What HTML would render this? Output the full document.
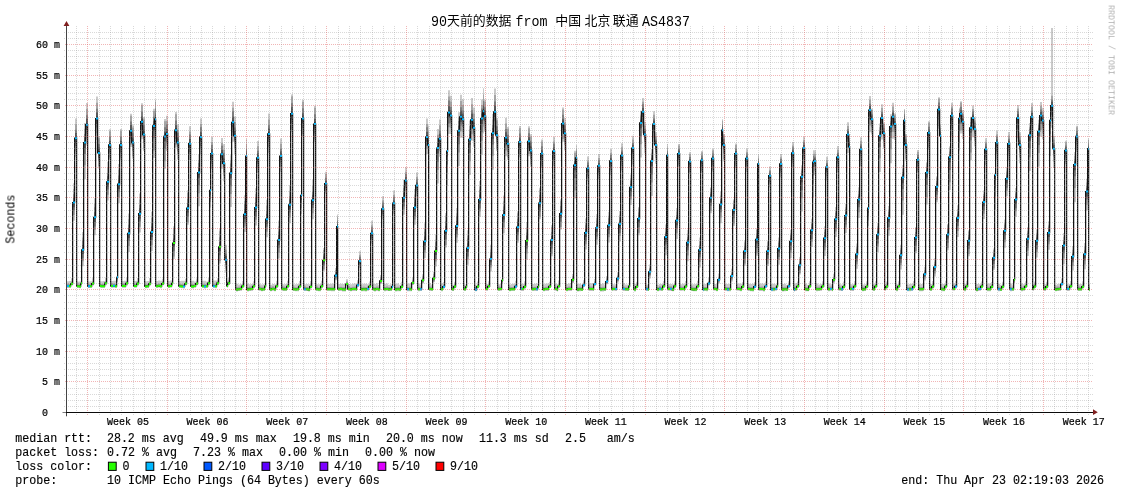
<!DOCTYPE html>
<html lang="zh"><head><meta charset="utf-8"><title>SmokePing 90 days</title>
<style>html,body{margin:0;padding:0;background:#fff}body{width:1121px;height:494px;overflow:hidden;font-family:"Liberation Mono",monospace}svg{display:block}</style>
</head><body>
<svg width="1121" height="494" viewBox="0 0 1121 494">
<rect width="1121" height="494" fill="#fff"/>
<path d="M66.00 281.57H67.00V287.92H66.00zM67.00 281.17H69.00V287.79H67.00zM69.00 281.05H71.00V287.93H69.00zM71.00 278.37H73.00V285.54H71.00zM73.00 183.23H75.00V220.78H73.00zM75.00 118.47H77.00V156.64H75.00zM77.00 281.44H79.00V287.88H77.00zM79.00 281.43H81.00V288.13H79.00zM81.00 278.03H82.00V285.29H81.00zM82.00 232.01H84.00V266.31H82.00zM84.00 122.90H86.00V179.26H84.00zM86.00 102.90H88.00V145.52H86.00zM88.00 281.55H90.00V288.07H88.00zM90.00 281.25H92.00V288.04H90.00zM92.00 278.34H94.00V285.48H92.00zM94.00 198.18H96.00V235.28H94.00zM96.00 96.44H98.00V139.88H96.00zM98.00 136.32H100.00V168.50H98.00zM100.00 281.16H101.00V287.77H100.00zM101.00 281.18H103.00V288.06H101.00zM103.00 280.90H105.00V288.05H103.00zM105.00 277.55H107.00V285.36H105.00zM107.00 161.69H109.00V200.57H107.00zM109.00 129.16H111.00V159.53H109.00zM111.00 281.06H113.00V287.76H111.00zM113.00 280.71H115.00V287.68H113.00zM115.00 280.86H117.00V288.09H115.00zM117.00 269.26H118.00V282.09H117.00zM118.00 163.91H120.00V203.24H118.00zM120.00 128.95H122.00V159.73H120.00zM122.00 280.91H124.00V287.69H122.00zM124.00 280.82H126.00V287.87H124.00zM126.00 277.80H128.00V285.41H126.00zM128.00 213.44H130.00V251.88H128.00zM130.00 113.69H132.00V147.07H130.00zM132.00 125.20H134.00V158.73H132.00zM134.00 280.98H136.00V287.86H134.00zM136.00 280.68H137.00V287.82H136.00zM137.00 277.90H139.00V285.50H137.00zM139.00 193.58H141.00V232.47H139.00zM141.00 103.20H143.00V139.32H141.00zM143.00 117.00H145.00V150.97H143.00zM145.00 281.23H147.00V288.20H145.00zM147.00 280.88H149.00V288.11H147.00zM149.00 278.09H151.00V285.63H149.00zM151.00 211.75H153.00V251.08H151.00zM153.00 108.87H155.00V157.95H153.00zM155.00 99.44H156.00V138.18H155.00zM156.00 281.03H158.00V288.08H156.00zM158.00 280.46H160.00V287.78H158.00zM160.00 280.75H162.00V288.33H160.00zM162.00 278.82H164.00V285.27H162.00zM164.00 119.07H166.00V168.81H164.00zM166.00 115.70H168.00V151.05H166.00zM168.00 280.96H170.00V288.10H168.00zM170.00 280.40H172.00V287.81H170.00zM172.00 277.59H173.00V285.53H172.00zM173.00 226.25H175.00V258.88H173.00zM175.00 112.05H177.00V147.44H175.00zM177.00 124.28H179.00V159.59H177.00zM179.00 280.88H181.00V288.11H179.00zM181.00 280.86H183.00V288.35H181.00zM183.00 280.69H185.00V288.45H183.00zM185.00 278.71H187.00V285.32H185.00zM187.00 190.37H189.00V224.78H187.00zM189.00 126.27H191.00V159.88H189.00zM191.00 280.99H192.00V288.31H191.00zM192.00 280.84H194.00V288.42H192.00zM194.00 281.39H196.00V287.74H194.00zM196.00 278.61H198.00V285.33H196.00zM198.00 154.56H200.00V206.29H198.00zM200.00 118.45H202.00V154.33H200.00zM202.00 280.70H204.00V288.11H202.00zM204.00 280.74H206.00V288.41H204.00zM206.00 281.49H208.00V287.93H206.00zM208.00 278.07H210.00V285.14H208.00zM210.00 172.12H211.00V207.43H210.00zM211.00 136.90H213.00V168.63H211.00zM213.00 280.59H215.00V288.08H213.00zM215.00 280.40H217.00V288.16H215.00zM217.00 278.17H219.00V285.08H217.00zM219.00 229.01H221.00V263.42H219.00zM221.00 138.00H223.00V168.79H221.00zM223.00 144.21H225.00V181.31H223.00zM225.00 244.75H227.00V272.49H225.00zM227.00 281.27H228.00V287.62H227.00zM228.00 278.11H230.00V285.11H228.00zM230.00 155.18H232.00V206.90H230.00zM232.00 101.87H234.00V141.78H232.00zM234.00 116.38H236.00V153.92H234.00zM236.00 283.84H238.00V291.51H236.00zM238.00 284.61H240.00V291.05H238.00zM240.00 283.99H242.00V290.69H240.00zM242.00 281.04H244.00V288.01H242.00zM244.00 195.35H246.00V232.00H244.00zM246.00 139.07H247.00V171.25H246.00zM247.00 283.67H249.00V291.43H247.00zM249.00 284.32H251.00V290.85H249.00zM251.00 283.99H253.00V290.78H251.00zM253.00 281.15H255.00V288.21H253.00zM255.00 188.37H257.00V225.47H255.00zM257.00 140.96H259.00V172.99H257.00zM259.00 284.37H261.00V290.72H259.00zM261.00 284.53H263.00V291.14H261.00zM263.00 284.24H265.00V291.12H263.00zM265.00 280.89H266.00V288.03H265.00zM266.00 199.79H268.00V237.34H266.00zM268.00 113.59H270.00V153.03H268.00zM270.00 284.69H272.00V291.13H270.00zM272.00 284.02H274.00V290.72H272.00zM274.00 284.29H276.00V291.25H274.00zM276.00 280.82H278.00V288.05H276.00zM278.00 220.42H280.00V258.41H278.00zM280.00 138.47H282.00V171.79H280.00zM282.00 284.11H283.00V290.63H282.00zM283.00 284.19H285.00V290.97H283.00zM285.00 284.05H287.00V291.10H285.00zM287.00 280.85H289.00V288.17H287.00zM289.00 184.92H291.00V223.36H289.00zM291.00 94.59H293.00V132.15H291.00zM293.00 284.48H295.00V291.09H293.00zM295.00 284.36H297.00V291.24H295.00zM297.00 284.03H299.00V291.17H297.00zM299.00 280.93H301.00V288.34H299.00zM301.00 175.18H302.00V214.07H301.00zM302.00 99.79H304.00V136.66H302.00zM304.00 284.25H306.00V290.95H304.00zM306.00 284.11H308.00V291.07H306.00zM308.00 284.18H310.00V291.41H308.00zM310.00 281.12H312.00V288.62H310.00zM312.00 179.86H314.00V219.19H312.00zM314.00 105.69H316.00V141.68H314.00zM316.00 284.17H318.00V290.96H316.00zM318.00 284.25H320.00V291.30H318.00zM320.00 283.97H321.00V291.28H320.00zM321.00 280.69H323.00V288.27H321.00zM323.00 247.99H325.00V270.78H323.00zM325.00 171.82H327.00V193.38H325.00zM327.00 284.07H329.00V290.94H327.00zM329.00 283.93H331.00V291.08H329.00zM331.00 283.78H333.00V291.18H331.00zM333.00 283.56H335.00V291.23H333.00zM335.00 267.94H337.00V280.27H335.00zM337.00 214.59H338.00V236.44H337.00zM338.00 284.04H340.00V291.00H338.00zM340.00 283.67H342.00V290.90H340.00zM342.00 283.91H344.00V291.41H342.00zM344.00 283.75H346.00V291.51H344.00zM346.00 279.18H348.00V285.71H346.00zM348.00 284.03H350.00V290.82H348.00zM350.00 284.22H352.00V291.27H350.00zM352.00 283.71H354.00V291.03H352.00zM354.00 283.38H356.00V290.96H354.00zM356.00 284.70H357.00V291.05H356.00zM357.00 280.35H359.00V286.96H357.00zM359.00 251.35H361.00V267.87H359.00zM361.00 284.15H363.00V291.29H361.00zM363.00 283.74H365.00V291.14H363.00zM365.00 283.74H367.00V291.41H365.00zM367.00 284.33H369.00V290.76H367.00zM369.00 281.47H371.00V288.17H369.00zM371.00 220.87H373.00V243.58H371.00zM373.00 283.80H374.00V291.03H373.00zM374.00 283.95H376.00V291.44H374.00zM376.00 283.31H378.00V291.07H376.00zM378.00 284.64H380.00V291.16H378.00zM380.00 274.97H382.00V283.83H380.00zM382.00 196.18H384.00V219.18H382.00zM384.00 283.86H386.00V291.18H384.00zM386.00 283.42H388.00V291.00H386.00zM388.00 284.74H390.00V291.09H388.00zM390.00 284.29H392.00V290.90H390.00zM392.00 281.63H393.00V288.51H392.00zM393.00 190.50H395.00V213.79H393.00zM395.00 284.01H397.00V291.41H395.00zM397.00 283.47H399.00V291.14H397.00zM399.00 284.72H401.00V291.15H399.00zM401.00 281.77H403.00V288.47H401.00zM403.00 179.48H405.00V214.79H403.00zM405.00 167.34H407.00V191.59H405.00zM407.00 283.82H409.00V291.32H407.00zM409.00 283.47H411.00V291.23H409.00zM411.00 284.64H412.00V291.16H411.00zM412.00 277.44H414.00V284.92H412.00zM414.00 189.06H416.00V224.82H414.00zM416.00 172.40H418.00V196.26H416.00zM418.00 283.62H420.00V291.20H418.00zM420.00 284.62H422.00V290.97H420.00zM422.00 274.30H424.00V283.38H422.00zM424.00 223.26H426.00V258.12H424.00zM426.00 118.45H428.00V154.33H426.00zM428.00 125.58H429.00V163.12H428.00zM429.00 283.35H431.00V291.03H429.00zM431.00 284.47H433.00V290.90H431.00zM433.00 271.75H435.00V282.31H433.00zM435.00 234.32H437.00V266.42H435.00zM437.00 129.11H439.00V183.49H437.00zM439.00 119.62H441.00V156.74H439.00zM441.00 283.54H443.00V291.30H441.00zM443.00 281.91H445.00V288.44H443.00zM445.00 213.06H447.00V247.48H445.00zM447.00 132.64H448.00V185.69H447.00zM448.00 90.28H450.00V133.93H448.00zM450.00 95.68H452.00V134.12H450.00zM452.00 284.66H454.00V291.01H452.00zM454.00 281.70H456.00V288.31H454.00zM456.00 207.92H458.00V242.79H456.00zM458.00 112.17H460.00V165.88H458.00zM460.00 94.87H462.00V137.82H460.00zM462.00 99.13H464.00V138.01H462.00zM464.00 284.58H466.00V291.02H464.00zM466.00 281.81H467.00V288.51H466.00zM467.00 230.17H469.00V264.63H467.00zM469.00 120.52H471.00V174.90H469.00zM471.00 98.08H473.00V140.67H471.00zM473.00 107.48H475.00V146.82H473.00zM475.00 284.68H477.00V291.20H475.00zM477.00 281.56H479.00V288.35H477.00zM479.00 181.09H481.00V216.85H479.00zM481.00 99.44H483.00V154.48H481.00zM483.00 88.22H484.00V133.52H483.00zM484.00 99.52H486.00V131.70H484.00zM486.00 284.04H488.00V290.65H486.00zM488.00 281.24H490.00V288.12H488.00zM490.00 244.78H492.00V271.39H490.00zM492.00 113.93H494.00V169.63H492.00zM494.00 88.57H496.00V134.39H494.00zM496.00 118.30H498.00V150.93H496.00zM498.00 284.26H500.00V290.97H498.00zM500.00 283.88H502.00V290.85H500.00zM502.00 273.75H503.00V283.66H502.00zM503.00 195.46H505.00V233.26H503.00zM505.00 117.84H507.00V156.34H505.00zM507.00 127.00H509.00V159.74H507.00zM509.00 284.44H511.00V291.23H509.00zM511.00 283.97H513.00V291.02H511.00zM513.00 283.73H515.00V291.05H513.00zM515.00 280.86H517.00V288.44H515.00zM517.00 211.27H519.00V242.72H517.00zM519.00 126.11H521.00V157.28H519.00zM521.00 284.04H522.00V290.92H521.00zM522.00 283.80H524.00V290.94H522.00zM524.00 281.25H526.00V288.65H524.00zM526.00 221.90H528.00V259.45H526.00zM528.00 126.20H530.00V156.34H528.00zM530.00 134.28H532.00V166.92H530.00zM532.00 284.08H534.00V291.05H532.00zM534.00 283.71H536.00V290.94H534.00zM536.00 283.59H538.00V291.09H536.00zM538.00 280.94H539.00V288.70H538.00zM539.00 187.84H541.00V219.23H539.00zM541.00 139.44H543.00V167.71H541.00zM543.00 284.28H545.00V291.33H543.00zM545.00 283.71H547.00V291.02H545.00zM547.00 283.51H549.00V291.09H547.00zM549.00 281.76H551.00V288.11H549.00zM551.00 224.94H553.00V256.25H551.00zM553.00 137.01H555.00V165.79H553.00zM555.00 283.65H557.00V290.79H555.00zM557.00 284.04H558.00V291.45H557.00zM558.00 280.59H560.00V288.26H558.00zM560.00 199.34H562.00V229.44H560.00zM562.00 107.54H564.00V141.63H562.00zM564.00 118.00H566.00V150.39H564.00zM566.00 284.10H568.00V291.33H566.00zM568.00 283.40H570.00V290.90H568.00zM570.00 283.29H572.00V291.05H570.00zM572.00 273.90H574.00V282.96H572.00zM574.00 150.72H576.00V198.50H574.00zM576.00 144.89H577.00V171.93H576.00zM577.00 284.12H579.00V291.43H577.00zM579.00 283.65H581.00V291.23H579.00zM581.00 284.75H583.00V291.10H581.00zM583.00 280.35H585.00V286.96H583.00zM585.00 218.48H587.00V249.53H585.00zM587.00 156.49H589.00V180.99H587.00zM589.00 283.48H591.00V290.89H589.00zM591.00 283.30H593.00V290.97H591.00zM593.00 284.54H594.00V290.98H593.00zM594.00 279.05H596.00V285.75H594.00zM596.00 213.89H598.00V244.84H596.00zM598.00 154.04H600.00V179.06H598.00zM600.00 283.93H602.00V291.42H600.00zM602.00 283.62H604.00V291.38H602.00zM604.00 284.55H606.00V291.08H604.00zM606.00 276.06H608.00V284.19H606.00zM608.00 211.80H610.00V242.61H608.00zM610.00 149.00H612.00V175.06H610.00zM612.00 283.54H613.00V291.12H612.00zM613.00 284.26H615.00V290.61H613.00zM615.00 284.20H617.00V290.81H615.00zM617.00 272.31H619.00V282.42H617.00zM619.00 210.91H621.00V241.60H619.00zM621.00 143.32H623.00V170.56H621.00zM623.00 283.29H625.00V290.96H623.00zM625.00 284.48H627.00V290.92H625.00zM627.00 284.39H629.00V291.09H627.00zM629.00 281.02H630.00V287.98H629.00zM630.00 174.46H632.00V205.01H630.00zM632.00 135.72H634.00V164.51H632.00zM634.00 283.69H636.00V291.45H634.00zM636.00 281.82H638.00V288.34H636.00zM638.00 206.88H640.00V235.21H638.00zM640.00 110.83H642.00V157.48H640.00zM642.00 97.88H644.00V133.35H642.00zM644.00 121.78H646.00V153.13H644.00zM646.00 284.62H648.00V290.97H646.00zM648.00 284.49H649.00V291.11H648.00zM649.00 264.62H651.00V278.43H649.00zM651.00 149.12H653.00V195.94H651.00zM653.00 111.14H655.00V144.06H653.00zM655.00 132.30H657.00V163.77H655.00zM657.00 284.73H659.00V291.17H657.00zM659.00 283.98H661.00V290.68H659.00zM661.00 284.07H663.00V291.03H661.00zM663.00 280.89H665.00V288.12H663.00zM665.00 224.59H667.00V255.34H665.00zM667.00 143.89H668.00V171.28H667.00zM668.00 284.12H670.00V290.64H668.00zM670.00 283.97H672.00V290.76H670.00zM672.00 284.29H674.00V291.35H672.00zM674.00 280.81H676.00V288.13H674.00zM676.00 207.89H678.00V239.00H676.00zM678.00 144.04H680.00V166.79H678.00zM680.00 284.13H682.00V290.75H680.00zM682.00 283.85H684.00V290.72H682.00zM684.00 284.18H685.00V291.32H684.00zM685.00 280.97H687.00V288.38H685.00zM687.00 229.82H689.00V261.29H687.00zM689.00 152.32H691.00V173.89H689.00zM691.00 284.29H693.00V290.99H691.00zM693.00 284.35H695.00V291.32H693.00zM695.00 284.04H697.00V291.27H695.00zM697.00 280.83H699.00V288.33H697.00zM699.00 237.60H701.00V267.51H699.00zM701.00 150.90H703.00V173.00H701.00zM703.00 284.44H704.00V291.23H703.00zM704.00 283.99H706.00V291.05H704.00zM706.00 283.88H708.00V291.20H706.00zM708.00 277.73H710.00V285.51H708.00zM710.00 187.23H712.00V213.28H710.00zM712.00 148.83H714.00V171.58H712.00zM714.00 283.90H716.00V290.78H714.00zM716.00 284.10H718.00V291.25H716.00zM718.00 273.51H720.00V283.40H718.00zM720.00 191.79H722.00V223.27H720.00zM722.00 119.31H723.00V146.76H722.00zM723.00 133.90H725.00V161.40H723.00zM725.00 283.97H727.00V290.93H725.00zM727.00 284.04H729.00V291.27H727.00zM729.00 283.78H731.00V291.27H729.00zM731.00 268.82H733.00V281.60H731.00zM733.00 199.21H735.00V225.98H733.00zM735.00 143.38H737.00V167.71H735.00zM737.00 283.72H739.00V290.77H737.00zM739.00 283.61H740.00V290.93H739.00zM740.00 283.79H742.00V291.37H740.00zM742.00 281.89H744.00V288.24H742.00zM744.00 240.84H746.00V265.64H744.00zM746.00 148.44H748.00V172.10H746.00zM748.00 283.84H750.00V290.98H748.00zM750.00 283.96H752.00V291.37H750.00zM752.00 283.73H754.00V291.40H752.00zM754.00 281.92H756.00V288.36H754.00zM756.00 228.36H758.00V255.85H756.00zM758.00 154.16H759.00V177.00H758.00zM759.00 283.73H761.00V290.96H759.00zM761.00 283.42H763.00V290.91H761.00zM763.00 283.68H765.00V291.44H763.00zM765.00 281.49H767.00V288.01H765.00zM767.00 240.56H769.00V266.03H767.00zM769.00 166.40H771.00V187.13H769.00zM771.00 284.01H773.00V291.33H771.00zM773.00 283.75H775.00V291.33H773.00zM775.00 284.25H777.00V290.60H775.00zM777.00 281.29H778.00V287.90H777.00zM778.00 237.56H780.00V264.78H778.00zM780.00 153.92H782.00V177.33H780.00zM782.00 284.02H784.00V291.43H782.00zM784.00 283.63H786.00V291.30H784.00zM786.00 284.65H788.00V291.09H786.00zM788.00 281.26H790.00V287.96H788.00zM790.00 229.76H792.00V258.34H790.00zM792.00 142.07H794.00V168.11H792.00zM794.00 283.97H795.00V291.46H794.00zM795.00 283.23H797.00V290.99H795.00zM797.00 281.49H799.00V288.01H797.00zM799.00 257.04H801.00V274.44H799.00zM801.00 165.21H803.00V211.45H801.00zM803.00 136.72H805.00V164.13H803.00zM805.00 283.73H807.00V291.31H805.00zM807.00 284.83H809.00V291.18H807.00zM809.00 281.32H811.00V287.93H809.00zM811.00 218.86H813.00V247.08H811.00zM813.00 150.35H814.00V197.16H813.00zM814.00 150.28H816.00V175.23H814.00zM816.00 283.62H818.00V291.29H816.00zM818.00 284.51H820.00V290.94H818.00zM820.00 284.00H822.00V290.71H820.00zM822.00 281.13H824.00V288.09H822.00zM824.00 226.26H826.00V255.92H824.00zM826.00 156.68H828.00V180.59H826.00zM828.00 283.60H830.00V291.35H828.00zM830.00 284.22H832.00V290.75H830.00zM832.00 284.39H833.00V291.18H832.00zM833.00 273.80H835.00V283.23H833.00zM835.00 207.10H837.00V237.12H835.00zM837.00 146.11H839.00V172.47H837.00zM839.00 284.29H841.00V290.64H839.00zM841.00 284.48H843.00V291.09H841.00zM843.00 281.62H845.00V288.50H843.00zM845.00 203.71H847.00V233.01H845.00zM847.00 122.23H849.00V152.89H847.00zM849.00 134.14H850.00V165.61H849.00zM850.00 284.31H852.00V290.75H850.00zM852.00 284.17H854.00V290.87H852.00zM854.00 281.10H856.00V288.07H854.00zM856.00 243.50H858.00V268.75H856.00zM858.00 187.18H860.00V217.93H858.00zM860.00 137.35H862.00V166.13H860.00zM862.00 284.61H864.00V291.13H862.00zM864.00 284.15H866.00V290.94H864.00zM866.00 281.31H868.00V288.36H866.00zM868.00 196.06H869.00V226.08H868.00zM869.00 95.95H871.00V132.29H869.00zM871.00 108.72H873.00V134.77H871.00zM873.00 284.35H875.00V290.96H873.00zM875.00 281.17H877.00V288.05H875.00zM877.00 222.72H879.00V252.02H877.00zM879.00 123.54H881.00V172.09H879.00zM881.00 104.14H883.00V139.61H881.00zM883.00 122.69H885.00V149.09H883.00zM885.00 284.04H886.00V290.74H885.00zM886.00 281.46H888.00V288.42H886.00zM888.00 206.02H890.00V235.68H888.00zM890.00 114.19H892.00V163.32H890.00zM892.00 102.67H894.00V138.83H892.00zM894.00 113.34H896.00V140.11H894.00zM896.00 284.35H898.00V291.14H896.00zM898.00 281.15H900.00V288.21H898.00zM900.00 244.82H902.00V269.62H900.00zM902.00 164.95H904.00V214.66H902.00zM904.00 109.11H905.00V138.01H904.00zM905.00 134.05H907.00V161.18H905.00zM907.00 284.40H909.00V291.28H907.00zM909.00 284.01H911.00V291.15H909.00zM911.00 283.66H913.00V291.07H911.00zM913.00 281.00H915.00V288.67H913.00zM915.00 226.95H917.00V253.36H915.00zM917.00 150.00H919.00V172.81H917.00zM919.00 284.19H921.00V291.15H919.00zM921.00 283.96H923.00V291.19H921.00zM923.00 283.46H924.00V290.95H923.00zM924.00 266.63H926.00V280.61H924.00zM926.00 161.79H928.00V204.56H926.00zM928.00 121.31H930.00V149.78H928.00zM930.00 284.05H932.00V291.11H930.00zM932.00 281.11H934.00V288.43H932.00zM934.00 258.28H936.00V276.53H934.00zM936.00 176.19H938.00V202.24H936.00zM938.00 97.13H940.00V128.83H938.00zM940.00 124.41H941.00V152.63H940.00zM941.00 284.02H943.00V291.16H941.00zM943.00 283.96H945.00V291.37H943.00zM945.00 280.78H947.00V288.45H945.00zM947.00 223.89H949.00V250.29H947.00zM949.00 146.17H951.00V190.09H949.00zM951.00 102.81H953.00V135.52H951.00zM953.00 283.60H955.00V290.83H953.00zM955.00 280.93H957.00V288.43H955.00zM957.00 205.14H959.00V236.98H957.00zM959.00 107.82H960.00V150.59H959.00zM960.00 101.19H962.00V133.43H960.00zM962.00 110.01H964.00V138.95H962.00zM964.00 283.87H966.00V291.19H964.00zM966.00 280.65H968.00V288.24H966.00zM968.00 230.16H970.00V256.21H968.00zM970.00 116.87H972.00V160.22H970.00zM972.00 105.57H974.00V137.37H972.00zM974.00 117.23H976.00V146.53H974.00zM976.00 284.03H978.00V291.43H976.00zM978.00 283.39H979.00V291.06H978.00zM979.00 284.26H981.00V290.69H979.00zM981.00 281.45H983.00V288.15H981.00zM983.00 190.51H985.00V219.08H983.00zM985.00 138.16H987.00V164.98H985.00zM987.00 283.73H989.00V291.22H987.00zM989.00 283.52H991.00V291.28H989.00zM991.00 281.93H993.00V288.45H991.00zM993.00 248.45H995.00V270.05H993.00zM995.00 163.37H996.00V209.61H995.00zM996.00 130.85H998.00V159.44H996.00zM998.00 283.63H1000.00V291.21H998.00zM1000.00 284.76H1002.00V291.10H1000.00zM1002.00 281.82H1004.00V288.44H1002.00zM1004.00 219.48H1006.00V247.69H1004.00zM1006.00 166.91H1008.00V196.21H1006.00zM1008.00 132.02H1010.00V160.68H1008.00zM1010.00 283.54H1012.00V291.21H1010.00zM1012.00 284.46H1014.00V290.90H1012.00zM1014.00 274.10H1015.00V283.05H1014.00zM1015.00 188.05H1017.00V216.63H1015.00zM1017.00 104.94H1019.00V138.36H1017.00zM1019.00 132.59H1021.00V163.34H1019.00zM1021.00 283.49H1023.00V291.25H1021.00zM1023.00 284.14H1025.00V290.67H1023.00zM1025.00 281.27H1027.00V288.05H1025.00zM1027.00 227.16H1029.00V256.10H1027.00zM1029.00 123.07H1031.00V171.04H1029.00zM1031.00 102.99H1033.00V138.32H1031.00zM1033.00 284.33H1034.00V290.68H1033.00zM1034.00 281.57H1036.00V288.18H1034.00zM1036.00 229.29H1038.00V257.51H1036.00zM1038.00 119.68H1040.00V166.50H1038.00zM1040.00 102.01H1042.00V136.78H1040.00zM1042.00 107.77H1044.00V139.24H1042.00zM1044.00 284.35H1046.00V290.79H1044.00zM1046.00 281.71H1048.00V288.41H1046.00zM1048.00 221.17H1050.00V249.75H1048.00zM1050.00 108.50H1051.00V155.89H1050.00zM1051.00 27.94H1053.00V127.74H1051.00zM1053.00 135.84H1055.00V167.67H1053.00zM1055.00 284.64H1057.00V291.16H1055.00zM1057.00 284.12H1059.00V290.91H1057.00zM1059.00 283.82H1061.00V290.88H1059.00zM1061.00 278.60H1063.00V285.92H1061.00zM1063.00 233.03H1065.00V264.14H1063.00zM1065.00 140.81H1067.00V164.13H1065.00zM1067.00 284.18H1069.00V290.80H1067.00zM1069.00 283.94H1070.00V290.82H1069.00zM1070.00 281.10H1072.00V288.24H1070.00zM1072.00 246.14H1074.00V270.48H1072.00zM1074.00 151.93H1076.00V202.21H1074.00zM1076.00 125.78H1078.00V152.08H1076.00zM1078.00 284.20H1080.00V290.90H1078.00zM1080.00 284.06H1082.00V291.03H1080.00zM1082.00 281.34H1084.00V288.57H1082.00zM1084.00 243.11H1086.00V269.28H1084.00zM1086.00 178.77H1088.00V210.60H1086.00zM1088.00 138.59H1089.00V162.91H1088.00zM1089.00 284.37H1090.00V291.16H1089.00z" fill="#cacaca"/>
<path d="M66.00 283.72H67.00V287.53H66.00zM67.00 283.42H69.00V287.38H67.00zM69.00 283.92H71.00V287.24H69.00zM71.00 281.35H73.00V284.82H71.00zM73.00 188.92H75.00V215.12H73.00zM75.00 124.26H77.00V150.93H75.00zM77.00 283.62H79.00V287.49H77.00zM79.00 283.72H81.00V287.72H79.00zM81.00 280.97H82.00V284.55H81.00zM82.00 237.38H84.00V261.14H82.00zM84.00 128.64H86.00V165.30H84.00zM86.00 109.09H88.00V139.10H86.00zM88.00 283.76H90.00V287.67H88.00zM90.00 283.57H92.00V287.62H90.00zM92.00 281.29H94.00V284.76H92.00zM94.00 203.82H96.00V229.68H94.00zM96.00 102.67H98.00V133.29H96.00zM98.00 138.37H100.00V166.24H98.00zM100.00 283.41H101.00V287.36H100.00zM101.00 284.06H103.00V287.37H101.00zM103.00 283.88H105.00V287.33H103.00zM105.00 280.67H107.00V284.56H105.00zM107.00 167.54H109.00V194.74H107.00zM109.00 131.27H111.00V157.37H109.00zM111.00 283.34H113.00V287.35H111.00zM113.00 283.62H115.00V286.98H113.00zM115.00 283.87H117.00V287.37H115.00zM117.00 272.83H118.00V280.47H117.00zM118.00 169.82H120.00V197.36H118.00zM120.00 131.10H122.00V157.52H120.00zM122.00 283.22H124.00V287.27H122.00zM124.00 283.76H126.00V287.17H124.00zM126.00 280.88H128.00V284.63H126.00zM128.00 219.24H130.00V246.10H128.00zM130.00 115.73H132.00V144.72H130.00zM132.00 127.41H134.00V156.29H132.00zM134.00 283.86H136.00V287.17H134.00zM136.00 283.66H137.00V287.11H136.00zM137.00 281.00H139.00V284.73H137.00zM139.00 199.44H141.00V226.64H139.00zM141.00 105.29H143.00V136.74H141.00zM143.00 119.26H145.00V148.48H143.00zM145.00 284.14H147.00V287.50H145.00zM147.00 283.89H149.00V287.39H147.00zM149.00 281.21H151.00V284.88H149.00zM151.00 217.66H153.00V245.20H151.00zM153.00 111.03H155.00V150.47H153.00zM155.00 101.76H156.00V135.30H155.00zM156.00 283.97H158.00V287.37H156.00zM158.00 283.51H160.00V287.05H158.00zM160.00 283.90H162.00V287.58H160.00zM162.00 280.96H164.00V284.88H162.00zM164.00 121.28H166.00V161.18H164.00zM166.00 121.10H168.00V145.64H166.00zM168.00 283.93H170.00V287.38H168.00zM170.00 283.48H172.00V287.07H170.00zM172.00 280.80H173.00V284.73H172.00zM173.00 228.35H175.00V256.56H173.00zM175.00 114.31H177.00V144.84H175.00zM177.00 129.69H179.00V154.21H177.00zM179.00 283.89H181.00V287.38H179.00zM181.00 283.97H183.00V287.61H181.00zM183.00 283.91H185.00V287.68H183.00zM185.00 280.92H187.00V284.92H185.00zM187.00 192.69H189.00V222.24H187.00zM189.00 131.55H191.00V154.79H189.00zM191.00 284.04H192.00V287.58H191.00zM192.00 283.99H194.00V287.67H192.00zM194.00 283.54H196.00V287.36H194.00zM196.00 280.86H198.00V284.92H196.00zM198.00 159.92H200.00V193.33H198.00zM200.00 123.95H202.00V148.89H200.00zM202.00 283.78H204.00V287.37H202.00zM204.00 283.92H206.00V287.65H204.00zM206.00 283.67H208.00V287.54H206.00zM208.00 280.35H210.00V284.70H208.00zM210.00 177.53H211.00V202.05H210.00zM211.00 142.05H213.00V163.89H211.00zM213.00 283.70H215.00V287.34H213.00zM215.00 283.62H217.00V287.39H215.00zM217.00 280.39H219.00V284.65H217.00zM219.00 231.33H221.00V260.88H219.00zM221.00 143.03H223.00V164.17H221.00zM223.00 149.85H225.00V175.70H223.00zM225.00 249.63H227.00V268.46H225.00zM227.00 283.42H228.00V287.23H227.00zM228.00 280.36H230.00V284.67H228.00zM230.00 160.54H232.00V193.94H230.00zM232.00 107.72H234.00V135.67H232.00zM234.00 122.07H236.00V148.26H234.00zM236.00 287.03H238.00V290.75H236.00zM238.00 286.79H240.00V290.66H238.00zM240.00 286.27H242.00V290.27H240.00zM242.00 283.95H244.00V287.31H242.00zM244.00 200.93H246.00V226.45H244.00zM246.00 144.31H247.00V166.48H246.00zM247.00 286.89H249.00V290.66H247.00zM249.00 286.54H251.00V290.45H249.00zM251.00 286.31H253.00V290.36H251.00zM253.00 284.10H255.00V287.50H253.00zM255.00 194.01H257.00V219.86H255.00zM257.00 146.21H259.00V168.25H257.00zM259.00 286.52H261.00V290.34H259.00zM261.00 286.78H263.00V290.74H261.00zM263.00 287.11H265.00V290.43H263.00zM265.00 283.87H266.00V287.32H265.00zM266.00 205.48H268.00V231.68H266.00zM268.00 119.50H270.00V147.11H268.00zM270.00 286.87H272.00V290.74H270.00zM272.00 286.30H274.00V290.31H272.00zM274.00 287.20H276.00V290.56H274.00zM276.00 283.83H278.00V287.33H276.00zM278.00 226.16H280.00V252.69H278.00zM280.00 143.87H282.00V166.88H280.00zM282.00 286.32H283.00V290.23H282.00zM283.00 286.51H285.00V290.55H283.00zM285.00 286.99H287.00V290.40H285.00zM287.00 283.90H289.00V287.44H287.00zM289.00 190.72H291.00V217.58H289.00zM291.00 96.61H293.00V129.49H291.00zM293.00 286.73H295.00V290.69H293.00zM295.00 287.24H297.00V290.55H295.00zM297.00 287.01H299.00V290.46H297.00zM299.00 284.02H301.00V287.60H299.00zM301.00 181.04H302.00V208.24H301.00zM302.00 101.87H304.00V134.02H302.00zM304.00 286.54H306.00V290.54H304.00zM306.00 287.02H308.00V290.38H306.00zM308.00 287.19H310.00V290.69H308.00zM310.00 284.24H312.00V287.87H310.00zM312.00 185.77H314.00V213.30H312.00zM314.00 107.83H316.00V139.09H314.00zM316.00 286.49H318.00V290.54H316.00zM318.00 287.19H320.00V290.60H318.00zM320.00 287.01H321.00V290.55H320.00zM321.00 283.84H323.00V287.52H321.00zM323.00 250.07H325.00V269.20H323.00zM325.00 174.04H327.00V191.85H325.00zM327.00 286.94H329.00V290.25H327.00zM329.00 286.91H331.00V290.36H329.00zM331.00 286.86H333.00V290.45H331.00zM333.00 286.75H335.00V290.48H333.00zM335.00 270.11H337.00V279.45H335.00zM337.00 216.87H338.00V234.87H337.00zM338.00 286.94H340.00V290.30H338.00zM340.00 286.68H342.00V290.18H340.00zM342.00 287.03H344.00V290.66H342.00zM344.00 286.97H346.00V290.74H344.00zM346.00 281.40H348.00V285.31H346.00zM348.00 286.35H350.00V290.40H348.00zM350.00 287.16H352.00V290.57H350.00zM352.00 286.76H354.00V290.30H352.00zM354.00 286.53H356.00V290.21H354.00zM356.00 286.85H357.00V290.66H356.00zM357.00 282.60H359.00V286.55H357.00zM359.00 255.08H361.00V265.58H359.00zM361.00 287.13H363.00V290.58H361.00zM363.00 286.82H365.00V290.41H363.00zM365.00 286.92H367.00V290.65H365.00zM367.00 286.51H369.00V290.37H367.00zM369.00 283.76H371.00V287.76H369.00zM371.00 225.17H373.00V240.28H371.00zM373.00 286.81H374.00V290.31H373.00zM374.00 287.06H376.00V290.70H374.00zM376.00 286.53H378.00V290.30H376.00zM378.00 286.86H380.00V290.77H378.00zM380.00 277.28H382.00V283.25H380.00zM382.00 200.52H384.00V215.84H382.00zM384.00 286.91H386.00V290.45H384.00zM386.00 286.57H388.00V290.25H386.00zM388.00 286.89H390.00V290.71H388.00zM390.00 286.54H392.00V290.50H390.00zM392.00 284.50H393.00V287.82H392.00zM393.00 194.89H395.00V210.42H393.00zM395.00 287.09H397.00V290.68H395.00zM397.00 286.65H399.00V290.38H397.00zM399.00 286.90H401.00V290.76H399.00zM401.00 284.06H403.00V288.06H401.00zM403.00 184.89H405.00V209.41H403.00zM405.00 171.84H407.00V188.07H405.00zM407.00 286.94H409.00V290.57H407.00zM409.00 286.69H411.00V290.46H409.00zM411.00 286.85H412.00V290.76H411.00zM412.00 279.76H414.00V284.45H412.00zM414.00 194.53H416.00V219.38H414.00zM416.00 176.88H418.00V192.82H416.00zM418.00 286.77H420.00V290.45H418.00zM420.00 286.77H422.00V290.59H420.00zM422.00 276.55H424.00V282.79H422.00zM424.00 228.62H426.00V252.79H424.00zM426.00 123.95H428.00V148.89H426.00zM428.00 131.27H429.00V157.46H428.00zM429.00 286.54H431.00V290.27H429.00zM431.00 286.65H433.00V290.51H431.00zM433.00 274.03H435.00V281.61H433.00zM435.00 239.45H437.00V261.57H435.00zM437.00 134.69H439.00V169.95H437.00zM439.00 125.29H441.00V151.16H439.00zM441.00 286.76H443.00V290.54H441.00zM443.00 284.13H445.00V288.04H443.00zM445.00 215.38H447.00V244.93H445.00zM447.00 138.11H448.00V172.44H447.00zM448.00 96.49H450.00V127.25H448.00zM450.00 101.48H452.00V128.34H450.00zM452.00 286.81H454.00V290.63H452.00zM454.00 283.95H456.00V287.91H454.00zM456.00 213.28H458.00V237.46H456.00zM458.00 117.69H460.00V152.49H458.00zM460.00 101.03H462.00V131.28H460.00zM462.00 104.98H464.00V132.18H462.00zM464.00 286.76H466.00V290.62H464.00zM466.00 284.10H467.00V288.10H466.00zM467.00 235.50H469.00V259.38H467.00zM469.00 126.10H471.00V161.36H469.00zM471.00 104.22H473.00V134.20H471.00zM473.00 113.39H475.00V140.93H473.00zM475.00 286.89H477.00V290.80H475.00zM477.00 283.88H479.00V287.93H477.00zM479.00 186.56H481.00V211.41H479.00zM481.00 105.07H483.00V140.80H481.00zM483.00 94.61H484.00V126.63H483.00zM484.00 101.57H486.00V129.44H484.00zM486.00 286.29H488.00V290.24H486.00zM488.00 284.11H490.00V287.43H488.00zM490.00 249.46H492.00V267.48H490.00zM492.00 119.62H494.00V155.81H492.00zM494.00 95.01H496.00V127.43H494.00zM496.00 120.40H498.00V148.61H496.00zM498.00 286.55H500.00V290.55H498.00zM500.00 286.79H502.00V290.15H500.00zM502.00 276.99H503.00V282.50H502.00zM503.00 201.15H505.00V227.54H503.00zM505.00 123.62H507.00V150.54H505.00zM507.00 129.11H509.00V157.36H507.00zM509.00 286.76H511.00V290.81H509.00zM511.00 286.91H513.00V290.32H511.00zM513.00 286.78H515.00V290.32H513.00zM515.00 284.01H517.00V287.69H515.00zM517.00 213.23H519.00V240.45H517.00zM519.00 128.22H521.00V154.96H519.00zM521.00 286.91H522.00V290.23H521.00zM522.00 286.77H524.00V290.22H522.00zM524.00 284.33H526.00V287.92H524.00zM526.00 227.38H528.00V253.62H526.00zM528.00 128.18H530.00V154.11H528.00zM530.00 136.39H532.00V164.42H530.00zM532.00 286.99H534.00V290.35H532.00zM534.00 286.73H536.00V290.22H534.00zM536.00 286.71H538.00V290.34H536.00zM538.00 284.16H539.00V287.93H538.00zM539.00 189.79H541.00V216.85H539.00zM541.00 141.58H543.00V165.52H541.00zM543.00 287.22H545.00V290.62H543.00zM545.00 286.75H547.00V290.30H545.00zM547.00 286.66H549.00V290.34H547.00zM549.00 283.90H551.00V287.72H549.00zM551.00 226.89H553.00V253.81H551.00zM553.00 141.41H555.00V161.13H553.00zM555.00 286.63H557.00V290.08H555.00zM557.00 287.12H558.00V290.71H557.00zM558.00 283.78H560.00V287.51H558.00zM560.00 201.15H562.00V227.12H560.00zM562.00 109.44H564.00V138.90H562.00zM564.00 122.57H566.00V145.01H564.00zM566.00 287.11H568.00V290.61H566.00zM568.00 286.52H570.00V290.15H568.00zM570.00 286.51H572.00V290.28H570.00zM572.00 276.07H574.00V282.35H572.00zM574.00 152.64H576.00V190.58H574.00zM576.00 149.04H577.00V167.47H576.00zM577.00 287.16H579.00V290.71H577.00zM579.00 286.80H581.00V290.48H579.00zM581.00 286.90H583.00V290.71H581.00zM583.00 282.60H585.00V286.55H583.00zM585.00 222.74H587.00V244.21H585.00zM587.00 160.43H589.00V176.96H587.00zM589.00 286.57H591.00V290.15H589.00zM591.00 286.49H593.00V290.22H591.00zM593.00 286.72H594.00V290.59H593.00zM594.00 281.34H596.00V285.34H594.00zM596.00 218.04H598.00V239.46H596.00zM598.00 157.95H600.00V174.88H598.00zM600.00 287.04H602.00V290.68H600.00zM602.00 286.84H604.00V290.61H602.00zM604.00 286.77H606.00V290.68H604.00zM606.00 278.35H608.00V283.65H606.00zM608.00 215.84H610.00V237.17H608.00zM610.00 152.88H612.00V170.61H610.00zM612.00 286.69H613.00V290.37H612.00zM613.00 286.40H615.00V290.22H613.00zM615.00 286.45H617.00V290.40H615.00zM617.00 275.33H619.00V281.07H617.00zM619.00 214.85H621.00V236.10H619.00zM621.00 147.17H623.00V165.80H621.00zM623.00 286.47H625.00V290.20H623.00zM625.00 286.66H627.00V290.53H625.00zM627.00 286.68H629.00V290.68H627.00zM629.00 283.93H630.00V287.29H629.00zM630.00 178.29H632.00V199.46H630.00zM632.00 139.54H634.00V159.37H632.00zM634.00 286.91H636.00V290.68H634.00zM636.00 284.03H638.00V287.94H636.00zM638.00 208.46H640.00V232.66H638.00zM640.00 114.45H642.00V144.23H640.00zM642.00 101.73H644.00V126.66H642.00zM644.00 125.56H646.00V147.36H644.00zM646.00 286.77H648.00V290.59H646.00zM648.00 286.74H649.00V290.70H648.00zM649.00 267.68H651.00V276.23H649.00zM651.00 152.66H653.00V182.54H651.00zM653.00 114.85H655.00V137.85H653.00zM655.00 136.05H657.00V157.94H655.00zM657.00 286.91H659.00V290.78H657.00zM659.00 286.27H661.00V290.27H659.00zM661.00 286.98H663.00V290.34H661.00zM663.00 283.91H665.00V287.40H663.00zM665.00 228.27H667.00V249.62H665.00zM667.00 147.57H668.00V166.34H667.00zM668.00 286.33H670.00V290.24H668.00zM670.00 286.29H672.00V290.34H670.00zM672.00 287.24H674.00V290.64H672.00zM674.00 283.86H676.00V287.40H674.00zM676.00 211.60H678.00V233.22H676.00zM678.00 145.52H680.00V164.84H678.00zM680.00 286.38H682.00V290.34H680.00zM682.00 286.72H684.00V290.03H682.00zM684.00 287.16H685.00V290.61H684.00zM685.00 284.05H687.00V287.64H685.00zM687.00 233.57H689.00V255.46H687.00zM689.00 153.90H691.00V172.03H689.00zM691.00 286.58H693.00V290.58H691.00zM693.00 287.26H695.00V290.62H693.00zM695.00 287.05H697.00V290.55H695.00zM697.00 283.95H699.00V287.58H697.00zM699.00 241.34H701.00V262.03H699.00zM701.00 152.50H703.00V171.07H701.00zM703.00 286.76H704.00V290.81H703.00zM704.00 286.94H706.00V290.34H704.00zM706.00 286.93H708.00V290.47H706.00zM708.00 280.89H710.00V284.72H708.00zM710.00 188.58H712.00V211.01H710.00zM712.00 150.45H714.00V169.58H712.00zM714.00 286.78H716.00V290.09H714.00zM716.00 287.08H718.00V290.53H716.00zM718.00 276.65H720.00V282.13H718.00zM720.00 195.55H722.00V217.44H720.00zM722.00 120.65H723.00V144.34H722.00zM723.00 135.39H725.00V158.90H723.00zM725.00 286.88H727.00V290.24H725.00zM727.00 287.06H729.00V290.55H727.00zM729.00 286.90H731.00V290.53H729.00zM731.00 272.16H733.00V279.77H731.00zM733.00 200.63H735.00V223.60H733.00zM735.00 145.04H737.00V165.52H735.00zM737.00 286.66H739.00V290.07H737.00zM739.00 286.66H740.00V290.20H739.00zM740.00 286.94H742.00V290.62H740.00zM742.00 284.04H744.00V287.86H742.00zM744.00 242.38H746.00V263.44H744.00zM746.00 151.76H748.00V167.77H746.00zM748.00 286.82H750.00V290.27H748.00zM750.00 287.04H752.00V290.63H750.00zM752.00 286.91H754.00V290.64H752.00zM754.00 284.10H756.00V287.97H754.00zM756.00 229.85H758.00V253.36H756.00zM758.00 157.48H759.00V172.87H758.00zM759.00 286.75H761.00V290.24H759.00zM761.00 286.53H763.00V290.17H761.00zM763.00 286.90H765.00V290.67H763.00zM765.00 283.70H767.00V287.61H765.00zM767.00 242.18H769.00V263.73H767.00zM769.00 169.69H771.00V183.46H769.00zM771.00 287.06H773.00V290.60H771.00zM773.00 286.90H775.00V290.58H773.00zM775.00 286.40H777.00V290.21H775.00zM777.00 283.54H778.00V287.49H777.00zM778.00 240.96H780.00V259.67H778.00zM780.00 157.31H782.00V173.11H780.00zM782.00 287.10H784.00V290.69H782.00zM784.00 286.81H786.00V290.54H784.00zM786.00 286.83H788.00V290.70H786.00zM788.00 283.55H790.00V287.55H788.00zM790.00 233.23H792.00V252.95H790.00zM792.00 145.55H794.00V163.34H792.00zM794.00 287.08H795.00V290.72H794.00zM795.00 286.45H797.00V290.22H795.00zM797.00 283.70H799.00V287.61H797.00zM799.00 258.96H801.00V272.94H799.00zM801.00 168.72H803.00V198.20H801.00zM803.00 140.26H805.00V159.08H803.00zM805.00 286.88H807.00V290.56H805.00zM807.00 286.98H809.00V290.80H807.00zM809.00 283.57H811.00V287.52H809.00zM811.00 222.30H813.00V241.75H811.00zM813.00 153.89H814.00V183.77H813.00zM814.00 153.79H816.00V170.73H814.00zM816.00 286.81H818.00V290.53H816.00zM818.00 286.69H820.00V290.55H818.00zM820.00 286.29H822.00V290.29H820.00zM822.00 284.04H824.00V287.39H822.00zM824.00 229.83H826.00V250.37H824.00zM826.00 160.20H828.00V176.33H826.00zM828.00 286.82H830.00V290.59H828.00zM830.00 286.44H832.00V290.35H830.00zM832.00 286.71H833.00V290.75H832.00zM833.00 276.81H835.00V282.01H833.00zM835.00 210.71H837.00V231.52H835.00zM837.00 149.71H839.00V167.71H837.00zM839.00 286.44H841.00V290.26H839.00zM841.00 286.73H843.00V290.68H841.00zM843.00 284.50H845.00V287.81H843.00zM845.00 207.25H847.00V227.51H845.00zM847.00 125.88H849.00V147.17H847.00zM849.00 137.89H850.00V159.78H849.00zM850.00 286.49H852.00V290.36H850.00zM852.00 286.45H854.00V290.45H852.00zM854.00 284.01H856.00V287.37H854.00zM856.00 246.96H858.00V264.15H856.00zM858.00 190.86H860.00V212.21H858.00zM860.00 141.06H862.00V160.89H860.00zM862.00 286.83H864.00V290.74H862.00zM864.00 286.47H866.00V290.52H864.00zM866.00 284.25H868.00V287.66H866.00zM868.00 199.67H869.00V220.48H868.00zM869.00 99.79H871.00V125.40H869.00zM871.00 110.07H873.00V132.50H871.00zM873.00 286.60H875.00V290.55H873.00zM875.00 284.04H877.00V287.36H875.00zM877.00 226.26H879.00V246.53H877.00zM879.00 127.18H881.00V158.26H879.00zM881.00 107.99H883.00V132.93H881.00zM883.00 124.07H885.00V146.77H883.00zM885.00 286.33H886.00V290.33H885.00zM886.00 284.37H888.00V287.73H886.00zM888.00 209.59H890.00V230.13H888.00zM890.00 117.87H892.00V149.35H890.00zM892.00 106.56H894.00V132.02H892.00zM894.00 114.76H896.00V137.73H894.00zM896.00 286.67H898.00V290.72H896.00zM898.00 284.10H900.00V287.50H898.00zM900.00 248.30H902.00V265.14H900.00zM902.00 168.67H904.00V200.54H902.00zM904.00 110.35H905.00V135.47H904.00zM905.00 135.50H907.00V158.74H905.00zM907.00 287.28H909.00V290.59H907.00zM909.00 286.98H911.00V290.43H909.00zM911.00 286.74H913.00V290.33H911.00zM913.00 284.18H915.00V287.91H913.00zM915.00 228.34H917.00V251.04H915.00zM917.00 151.67H919.00V170.79H917.00zM919.00 287.10H921.00V290.45H919.00zM921.00 286.98H923.00V290.47H921.00zM923.00 286.57H924.00V290.21H923.00zM924.00 270.00H926.00V278.52H924.00zM926.00 163.21H928.00V197.08H926.00zM928.00 122.81H930.00V147.17H928.00zM930.00 287.00H932.00V290.40H930.00zM932.00 284.16H934.00V287.70H932.00zM934.00 261.69H936.00V273.50H934.00zM936.00 177.54H938.00V199.97H936.00zM938.00 98.41H940.00V125.94H938.00zM940.00 127.84H941.00V147.30H940.00zM941.00 287.00H943.00V290.45H941.00zM943.00 287.05H945.00V290.63H943.00zM945.00 283.96H947.00V287.69H945.00zM947.00 225.27H949.00V247.97H947.00zM949.00 147.66H951.00V182.32H949.00zM951.00 106.39H953.00V129.24H951.00zM953.00 286.62H955.00V290.11H953.00zM955.00 284.05H957.00V287.68H955.00zM957.00 208.93H959.00V231.09H957.00zM959.00 109.24H960.00V143.11H959.00zM960.00 102.55H962.00V130.44H960.00zM962.00 113.52H964.00V133.51H962.00zM964.00 286.92H966.00V290.46H964.00zM966.00 283.80H968.00V287.48H966.00zM968.00 231.51H970.00V253.94H968.00zM970.00 118.33H972.00V152.59H970.00zM972.00 109.10H974.00V131.26H972.00zM974.00 120.77H976.00V141.03H974.00zM976.00 287.11H978.00V290.70H976.00zM978.00 286.58H979.00V290.30H978.00zM979.00 286.44H981.00V290.30H979.00zM981.00 283.73H983.00V287.73H981.00zM983.00 193.97H985.00V213.70H983.00zM985.00 141.66H987.00V160.04H985.00zM987.00 286.84H989.00V290.48H987.00zM989.00 286.74H991.00V290.51H989.00zM991.00 284.15H993.00V288.06H991.00zM993.00 250.21H995.00V268.14H993.00zM995.00 166.88H996.00V196.36H995.00zM996.00 134.43H998.00V154.14H996.00zM998.00 286.78H1000.00V290.46H998.00zM1000.00 286.90H1002.00V290.72H1000.00zM1002.00 284.07H1004.00V288.03H1002.00zM1004.00 222.91H1006.00V242.37H1004.00zM1006.00 170.45H1008.00V190.71H1006.00zM1008.00 135.62H1010.00V155.39H1008.00zM1010.00 286.73H1012.00V290.45H1010.00zM1012.00 286.64H1014.00V290.51H1012.00zM1014.00 276.30H1015.00V282.41H1014.00zM1015.00 191.52H1017.00V211.25H1015.00zM1017.00 108.60H1019.00V132.00H1017.00zM1019.00 136.27H1021.00V157.62H1019.00zM1021.00 286.71H1023.00V290.48H1021.00zM1023.00 286.36H1025.00V290.27H1023.00zM1025.00 283.58H1027.00V287.63H1025.00zM1027.00 230.66H1029.00V250.66H1027.00zM1029.00 126.68H1031.00V157.36H1029.00zM1031.00 106.81H1033.00V131.65H1031.00zM1033.00 286.48H1034.00V290.30H1033.00zM1034.00 283.82H1036.00V287.78H1034.00zM1036.00 232.72H1038.00V252.18H1036.00zM1038.00 123.22H1040.00V153.10H1038.00zM1040.00 105.76H1042.00V130.18H1040.00zM1042.00 111.52H1044.00V133.41H1042.00zM1044.00 286.53H1046.00V290.40H1044.00zM1046.00 284.00H1048.00V288.00H1046.00zM1048.00 224.64H1050.00V244.37H1048.00zM1050.00 112.07H1051.00V142.35H1050.00zM1051.00 95.63H1053.00V120.91H1051.00zM1053.00 139.62H1055.00V161.78H1053.00zM1055.00 286.86H1057.00V290.77H1055.00zM1057.00 286.44H1059.00V290.49H1057.00zM1059.00 286.77H1061.00V290.17H1059.00zM1061.00 281.65H1063.00V285.19H1061.00zM1063.00 236.75H1065.00V258.37H1063.00zM1065.00 142.26H1067.00V162.12H1065.00zM1067.00 286.43H1069.00V290.39H1067.00zM1069.00 286.82H1070.00V290.13H1069.00zM1070.00 284.07H1072.00V287.52H1070.00zM1072.00 249.64H1074.00V266.11H1072.00zM1074.00 155.68H1076.00V187.95H1074.00zM1076.00 127.17H1078.00V149.77H1076.00zM1078.00 286.48H1080.00V290.48H1078.00zM1080.00 286.97H1082.00V290.33H1080.00zM1082.00 284.36H1084.00V287.85H1082.00zM1084.00 246.68H1086.00V264.54H1084.00zM1086.00 182.56H1088.00V204.72H1086.00zM1088.00 140.11H1089.00V160.77H1088.00zM1089.00 286.69H1090.00V290.74H1089.00z" fill="#a4a4a4"/>
<path d="M66.00 284.96H67.00V286.97H66.00zM67.00 284.71H69.00V286.80H67.00zM69.00 284.73H71.00V286.89H69.00zM71.00 282.21H73.00V284.46H71.00zM73.00 194.30H75.00V210.14H73.00zM75.00 129.72H77.00V145.89H75.00zM77.00 284.88H79.00V286.92H77.00zM79.00 285.02H81.00V287.13H79.00zM81.00 281.81H82.00V284.17H81.00zM82.00 240.48H84.00V258.27H82.00zM84.00 134.08H86.00V153.94H84.00zM86.00 115.16H88.00V133.41H86.00zM88.00 285.04H90.00V287.10H88.00zM90.00 284.89H92.00V287.03H90.00zM92.00 282.13H94.00V284.40H92.00zM94.00 207.17H96.00V226.53H94.00zM96.00 108.86H98.00V127.46H96.00zM98.00 144.04H100.00V160.98H98.00zM100.00 284.69H101.00V286.78H100.00zM101.00 284.87H103.00V287.03H101.00zM103.00 284.73H105.00V286.97H103.00zM105.00 281.90H107.00V283.97H105.00zM107.00 173.10H109.00V189.60H107.00zM109.00 136.62H111.00V152.47H109.00zM111.00 284.65H113.00V286.76H111.00zM113.00 284.44H115.00V286.63H113.00zM115.00 284.74H117.00V287.00H115.00zM117.00 274.77H118.00V279.15H117.00zM118.00 175.44H120.00V192.15H118.00zM120.00 136.51H122.00V152.56H120.00zM122.00 284.54H124.00V286.68H122.00zM124.00 284.60H126.00V286.82H124.00zM126.00 281.78H128.00V284.23H126.00zM128.00 224.73H130.00V241.01H128.00zM130.00 121.61H132.00V139.24H130.00zM132.00 133.27H134.00V150.86H132.00zM134.00 284.66H136.00V286.83H134.00zM136.00 284.51H137.00V286.75H136.00zM137.00 282.20H139.00V284.17H137.00zM139.00 204.99H141.00V221.49H139.00zM141.00 111.62H143.00V130.79H141.00zM143.00 125.18H145.00V143.00H143.00zM145.00 284.96H147.00V287.15H145.00zM147.00 284.75H149.00V287.02H147.00zM149.00 282.41H151.00V284.33H149.00zM151.00 223.28H153.00V239.99H151.00zM153.00 116.82H155.00V138.32H153.00zM155.00 108.47H156.00V128.99H155.00zM156.00 284.81H158.00V287.02H156.00zM158.00 284.39H160.00V286.68H158.00zM160.00 285.10H162.00V287.03H160.00zM162.00 282.23H164.00V284.29H162.00zM164.00 127.13H166.00V148.91H164.00zM166.00 124.19H168.00V142.73H166.00zM168.00 284.78H170.00V287.02H168.00zM170.00 284.66H172.00V286.54H170.00zM172.00 282.06H173.00V284.14H172.00zM173.00 234.09H175.00V251.24H173.00zM175.00 120.47H177.00V139.11H175.00zM177.00 132.81H179.00V151.28H177.00zM179.00 284.75H181.00V287.02H179.00zM181.00 285.17H183.00V287.07H181.00zM183.00 285.14H185.00V287.12H183.00zM185.00 282.21H187.00V284.32H185.00zM187.00 198.66H189.00V216.70H187.00zM189.00 134.54H191.00V152.01H189.00zM191.00 284.91H192.00V287.21H191.00zM192.00 285.20H194.00V287.13H192.00zM194.00 284.78H196.00V286.79H194.00zM196.00 282.16H198.00V284.31H196.00zM198.00 162.97H200.00V185.56H198.00zM200.00 127.15H202.00V145.88H200.00zM202.00 284.96H204.00V286.84H202.00zM204.00 285.14H206.00V287.10H204.00zM206.00 284.93H208.00V286.97H206.00zM208.00 281.72H210.00V284.04H208.00zM210.00 180.65H211.00V199.12H210.00zM211.00 144.94H213.00V161.25H211.00zM213.00 284.90H215.00V286.80H213.00zM215.00 284.85H217.00V286.84H215.00zM217.00 281.73H219.00V284.01H217.00zM219.00 237.30H221.00V255.34H219.00zM221.00 145.79H223.00V161.64H221.00zM223.00 153.20H225.00V172.55H223.00zM225.00 253.64H227.00V264.94H225.00zM227.00 284.66H228.00V286.67H227.00zM228.00 281.72H230.00V284.02H228.00zM230.00 163.59H232.00V186.18H230.00zM232.00 111.25H234.00V132.29H232.00zM234.00 127.45H236.00V143.28H234.00zM236.00 288.24H238.00V290.20H236.00zM238.00 288.05H240.00V290.09H238.00zM240.00 287.57H242.00V289.69H240.00zM242.00 284.78H244.00V286.96H242.00zM244.00 204.22H246.00V223.36H244.00zM246.00 148.94H247.00V162.30H246.00zM247.00 288.12H249.00V290.11H247.00zM249.00 287.81H251.00V289.87H249.00zM251.00 287.63H253.00V289.77H251.00zM253.00 284.93H255.00V287.15H253.00zM255.00 197.36H257.00V216.71H255.00zM257.00 150.81H259.00V164.11H257.00zM259.00 287.77H261.00V289.77H259.00zM261.00 288.07H263.00V290.15H261.00zM263.00 287.92H265.00V290.09H263.00zM265.00 284.72H266.00V286.96H265.00zM266.00 210.86H268.00V226.70H266.00zM268.00 125.13H270.00V141.88H268.00zM270.00 288.13H272.00V290.17H270.00zM272.00 287.61H274.00V289.72H272.00zM274.00 288.02H276.00V290.21H274.00zM276.00 284.70H278.00V286.97H276.00zM278.00 231.60H280.00V247.65H278.00zM280.00 148.65H282.00V162.56H280.00zM282.00 287.60H283.00V289.66H282.00zM283.00 287.82H285.00V289.96H283.00zM285.00 287.83H287.00V290.04H285.00zM287.00 284.78H289.00V287.07H287.00zM289.00 196.21H291.00V212.49H289.00zM291.00 103.21H293.00V123.25H291.00zM293.00 288.02H295.00V290.10H293.00zM295.00 288.05H297.00V290.21H295.00zM297.00 287.86H299.00V290.10H297.00zM299.00 285.19H301.00V287.07H299.00zM301.00 186.59H302.00V203.09H301.00zM302.00 108.33H304.00V127.94H302.00zM304.00 287.84H306.00V289.95H304.00zM306.00 287.84H308.00V290.03H306.00zM308.00 288.06H310.00V290.32H308.00zM310.00 285.43H312.00V287.33H310.00zM312.00 191.38H314.00V208.10H312.00zM314.00 114.13H316.00V133.19H314.00zM316.00 287.80H318.00V289.94H316.00zM318.00 288.03H320.00V290.24H318.00zM320.00 287.89H321.00V290.18H320.00zM321.00 285.04H323.00V286.97H321.00zM323.00 254.13H325.00V265.65H323.00zM325.00 177.87H327.00V188.57H325.00zM327.00 287.75H329.00V289.91H327.00zM329.00 287.76H331.00V290.00H329.00zM331.00 288.03H333.00V289.91H331.00zM333.00 287.97H335.00V289.92H333.00zM335.00 272.37H337.00V277.81H335.00zM337.00 220.73H338.00V231.57H337.00zM338.00 287.77H340.00V289.96H338.00zM340.00 287.54H342.00V289.81H340.00zM342.00 288.22H344.00V290.12H342.00zM344.00 288.20H346.00V290.18H344.00zM346.00 282.67H348.00V284.73H346.00zM348.00 287.66H350.00V289.80H348.00zM350.00 288.00H352.00V290.21H350.00zM352.00 287.64H354.00V289.93H352.00zM354.00 287.74H356.00V289.67H354.00zM356.00 288.09H357.00V290.10H356.00zM357.00 283.88H359.00V285.97H357.00zM359.00 256.66H361.00V264.37H359.00zM361.00 287.98H363.00V290.22H361.00zM363.00 288.00H365.00V289.87H363.00zM365.00 288.14H367.00V290.10H365.00zM367.00 287.77H369.00V289.80H367.00zM369.00 285.06H371.00V287.17H369.00zM371.00 227.26H373.00V238.50H371.00zM373.00 287.68H374.00V289.94H373.00zM374.00 288.26H376.00V290.16H374.00zM376.00 287.76H378.00V289.74H376.00zM378.00 288.13H380.00V290.19H378.00zM380.00 278.95H382.00V282.28H380.00zM382.00 202.66H384.00V214.03H382.00zM384.00 287.78H386.00V290.08H384.00zM386.00 287.78H388.00V289.71H386.00zM388.00 288.14H390.00V290.14H388.00zM390.00 287.83H392.00V289.91H390.00zM392.00 285.31H393.00V287.48H392.00zM393.00 197.07H395.00V208.57H393.00zM395.00 288.27H397.00V290.14H395.00zM397.00 287.87H399.00V289.83H397.00zM399.00 288.16H401.00V290.19H399.00zM401.00 285.36H403.00V287.47H401.00zM403.00 188.01H405.00V206.48H403.00zM405.00 174.10H407.00V186.13H405.00zM407.00 288.13H409.00V290.03H407.00zM409.00 287.92H411.00V289.90H409.00zM411.00 288.13H412.00V290.19H411.00zM412.00 281.19H414.00V283.73H412.00zM414.00 197.70H416.00V216.40H414.00zM416.00 179.14H418.00V190.91H416.00zM418.00 287.97H420.00V289.90H418.00zM420.00 288.02H422.00V290.02H420.00zM422.00 278.25H424.00V281.76H422.00zM424.00 231.67H426.00V249.92H424.00zM426.00 127.15H428.00V145.88H426.00zM428.00 136.65H429.00V152.48H428.00zM429.00 287.76H431.00V289.71H429.00zM431.00 287.91H433.00V289.94H431.00zM433.00 275.99H435.00V280.32H433.00zM435.00 242.30H437.00V258.94H435.00zM437.00 137.98H439.00V161.66H437.00zM439.00 130.60H441.00V146.25H439.00zM441.00 288.00H443.00V289.98H441.00zM443.00 285.40H445.00V287.46H443.00zM445.00 221.36H447.00V239.39H445.00zM447.00 141.28H448.00V164.41H447.00zM448.00 100.38H450.00V123.49H448.00zM450.00 106.97H452.00V123.25H450.00zM452.00 288.06H454.00V290.06H452.00zM454.00 285.24H456.00V287.32H454.00zM456.00 216.33H458.00V234.59H456.00zM458.00 120.92H460.00V144.33H458.00zM460.00 107.16H462.00V125.50H460.00zM462.00 110.54H464.00V127.04H462.00zM464.00 288.02H466.00V290.05H464.00zM466.00 285.40H467.00V287.51H466.00zM467.00 238.55H469.00V256.54H467.00zM469.00 129.39H471.00V153.07H469.00zM471.00 110.30H473.00V128.49H471.00zM473.00 119.01H475.00V135.73H473.00zM475.00 288.17H477.00V290.23H475.00zM477.00 285.20H479.00V287.33H477.00zM479.00 189.73H481.00V208.43H479.00zM481.00 108.42H483.00V132.37H481.00zM483.00 101.06H484.00V120.52H483.00zM484.00 107.24H486.00V124.18H484.00zM486.00 287.57H488.00V289.66H486.00zM488.00 284.92H490.00V287.09H488.00zM490.00 251.91H492.00V265.32H490.00zM492.00 124.99H494.00V144.59H492.00zM494.00 101.53H496.00V121.26H494.00zM496.00 126.14H498.00V143.30H496.00zM498.00 287.85H500.00V289.96H498.00zM500.00 287.62H502.00V289.81H500.00zM502.00 278.08H503.00V281.89H502.00zM503.00 206.53H505.00V222.51H503.00zM505.00 129.08H507.00V145.42H505.00zM507.00 134.79H509.00V151.99H507.00zM509.00 288.08H511.00V290.22H509.00zM511.00 287.75H513.00V289.97H511.00zM513.00 287.66H515.00V289.95H513.00zM515.00 285.21H517.00V287.14H515.00zM517.00 218.65H519.00V235.19H517.00zM519.00 133.54H521.00V149.81H519.00zM521.00 287.72H522.00V289.89H521.00zM522.00 287.62H524.00V289.87H522.00zM524.00 285.51H526.00V287.38H524.00zM526.00 232.56H528.00V248.48H526.00zM528.00 133.29H530.00V149.04H528.00zM530.00 141.85H532.00V158.94H530.00zM532.00 287.82H534.00V290.01H532.00zM534.00 287.59H536.00V289.86H534.00zM536.00 287.90H538.00V289.80H536.00zM538.00 285.39H539.00V287.38H538.00zM539.00 195.01H541.00V211.48H539.00zM541.00 146.26H543.00V160.81H541.00zM543.00 288.06H545.00V290.27H543.00zM545.00 287.63H547.00V289.92H545.00zM547.00 287.86H549.00V289.79H547.00zM549.00 285.15H551.00V287.16H549.00zM551.00 231.99H553.00V248.38H551.00zM553.00 143.79H555.00V158.62H553.00zM555.00 287.48H557.00V289.72H555.00zM557.00 288.30H558.00V290.18H557.00zM558.00 285.00H560.00V286.95H558.00zM560.00 206.02H562.00V221.80H560.00zM562.00 114.86H564.00V132.85H562.00zM564.00 125.18H566.00V142.08H564.00zM566.00 287.97H568.00V290.24H566.00zM568.00 287.71H570.00V289.61H568.00zM570.00 287.74H572.00V289.72H570.00zM572.00 277.72H574.00V281.26H572.00zM574.00 157.50H576.00V178.05H574.00zM576.00 151.25H577.00V165.04H576.00zM577.00 288.04H579.00V290.33H577.00zM579.00 288.00H581.00V289.93H579.00zM581.00 288.14H583.00V290.15H581.00zM583.00 283.88H585.00V285.97H583.00zM585.00 225.14H587.00V241.34H585.00zM587.00 162.45H589.00V174.75H587.00zM589.00 287.74H591.00V289.62H589.00zM591.00 287.71H593.00V289.66H591.00zM593.00 287.98H594.00V290.02H593.00zM594.00 282.64H596.00V284.75H594.00zM596.00 220.41H598.00V236.54H596.00zM598.00 159.98H600.00V172.56H598.00zM600.00 288.23H602.00V290.14H600.00zM602.00 288.07H604.00V290.05H602.00zM604.00 288.04H606.00V290.10H604.00zM606.00 279.85H608.00V282.76H606.00zM608.00 218.16H610.00V234.19H608.00zM610.00 154.95H612.00V168.12H610.00zM612.00 287.89H613.00V289.82H612.00zM613.00 287.65H615.00V289.66H613.00zM615.00 287.74H617.00V289.82H615.00zM617.00 276.33H619.00V280.37H617.00zM619.00 217.12H621.00V233.06H619.00zM621.00 150.45H623.00V161.64H621.00zM623.00 287.69H625.00V289.65H623.00zM625.00 287.92H627.00V289.95H625.00zM627.00 287.98H629.00V290.09H627.00zM629.00 284.75H630.00V286.94H629.00zM630.00 180.52H632.00V196.37H630.00zM632.00 142.90H634.00V154.85H632.00zM634.00 288.14H636.00V290.12H634.00zM636.00 285.31H638.00V287.37H636.00zM638.00 212.38H640.00V227.13H638.00zM640.00 116.52H642.00V136.20H640.00zM642.00 104.18H644.00V122.90H642.00zM644.00 129.08H646.00V142.26H644.00zM646.00 288.02H648.00V290.03H646.00zM648.00 288.03H649.00V290.12H648.00zM649.00 268.85H651.00V275.07H649.00zM651.00 154.70H653.00V174.38H651.00zM653.00 118.47H655.00V132.38H653.00zM655.00 139.54H657.00V152.80H655.00zM657.00 288.17H659.00V290.21H657.00zM659.00 287.57H661.00V289.68H659.00zM661.00 287.80H663.00V289.99H661.00zM663.00 284.77H665.00V287.04H663.00zM665.00 231.69H667.00V244.59H665.00zM667.00 150.68H668.00V161.99H667.00zM668.00 287.61H670.00V289.67H668.00zM670.00 287.61H672.00V289.75H670.00zM672.00 288.07H674.00V290.29H672.00zM674.00 284.73H676.00V287.03H674.00zM676.00 215.06H678.00V228.13H676.00zM678.00 148.70H680.00V160.36H678.00zM680.00 287.67H682.00V289.76H680.00zM682.00 287.53H684.00V289.69H682.00zM684.00 288.01H685.00V290.25H684.00zM685.00 285.23H687.00V287.11H685.00zM687.00 237.06H689.00V250.32H687.00zM689.00 156.93H691.00V167.87H689.00zM691.00 287.88H693.00V289.99H691.00zM693.00 288.09H695.00V290.28H693.00zM695.00 287.92H697.00V290.18H695.00zM697.00 285.14H699.00V287.04H697.00zM699.00 244.69H701.00V257.20H699.00zM701.00 155.60H703.00V166.81H701.00zM703.00 288.07H704.00V290.21H703.00zM704.00 287.77H706.00V289.99H704.00zM706.00 287.80H708.00V290.10H706.00zM708.00 282.11H710.00V284.13H708.00zM710.00 192.15H712.00V205.75H710.00zM712.00 153.62H714.00V165.18H712.00zM714.00 287.58H716.00V289.75H714.00zM716.00 287.93H718.00V290.17H716.00zM718.00 278.07H720.00V281.12H718.00zM720.00 199.04H722.00V212.29H720.00zM722.00 124.38H723.00V138.78H722.00zM723.00 139.11H725.00V153.42H723.00zM725.00 287.70H727.00V289.89H725.00zM727.00 287.92H729.00V290.19H727.00zM729.00 288.09H731.00V289.99H729.00zM731.00 273.87H733.00V278.24H731.00zM733.00 204.27H735.00V218.23H733.00zM735.00 148.38H737.00V160.81H735.00zM737.00 287.50H739.00V289.71H737.00zM739.00 287.54H740.00V289.83H739.00zM740.00 288.14H742.00V290.07H740.00zM742.00 285.29H744.00V287.29H742.00zM744.00 245.79H746.00V258.56H744.00zM746.00 153.44H748.00V165.44H746.00zM748.00 287.67H750.00V289.91H748.00zM750.00 288.22H752.00V290.10H750.00zM752.00 288.13H754.00V290.09H752.00zM754.00 285.36H756.00V287.40H754.00zM756.00 233.56H758.00V247.88H756.00zM758.00 159.14H759.00V170.62H758.00zM759.00 287.61H761.00V289.88H759.00zM761.00 287.72H763.00V289.63H761.00zM763.00 288.13H765.00V290.11H763.00zM765.00 284.98H767.00V287.04H765.00zM767.00 245.66H769.00V258.75H767.00zM769.00 171.25H771.00V181.47H769.00zM771.00 287.94H773.00V290.23H771.00zM773.00 288.11H775.00V290.04H773.00zM775.00 287.64H777.00V289.65H775.00zM777.00 284.83H778.00V286.91H777.00zM778.00 242.83H780.00V256.92H778.00zM780.00 159.03H782.00V170.78H780.00zM782.00 288.28H784.00V290.16H782.00zM784.00 288.03H786.00V289.99H784.00zM786.00 288.09H788.00V290.13H786.00zM788.00 284.85H790.00V286.96H788.00zM790.00 235.19H792.00V250.03H790.00zM792.00 147.43H794.00V160.68H792.00zM794.00 288.27H795.00V290.18H794.00zM795.00 287.68H797.00V289.66H795.00zM797.00 284.98H799.00V287.04H797.00zM799.00 261.51H801.00V269.86H799.00zM801.00 170.71H803.00V190.17H801.00zM803.00 142.23H805.00V156.25H803.00zM805.00 288.08H807.00V290.01H805.00zM807.00 288.23H809.00V290.23H807.00zM809.00 284.86H811.00V286.94H809.00zM811.00 224.22H813.00V238.88H811.00zM813.00 155.92H814.00V175.61H813.00zM814.00 156.65H816.00V166.81H814.00zM816.00 288.02H818.00V289.98H816.00zM818.00 287.95H820.00V289.98H818.00zM820.00 287.59H822.00V289.70H820.00zM822.00 284.86H824.00V287.05H822.00zM824.00 231.90H826.00V247.28H824.00zM826.00 162.96H828.00V172.62H826.00zM828.00 288.05H830.00V290.03H828.00zM830.00 287.71H832.00V289.77H830.00zM832.00 288.02H833.00V290.16H832.00zM833.00 277.77H835.00V281.37H833.00zM835.00 212.82H837.00V228.37H835.00zM837.00 152.71H839.00V163.53H837.00zM839.00 287.69H841.00V289.69H839.00zM841.00 288.01H843.00V290.10H841.00zM843.00 285.31H845.00V287.47H843.00zM845.00 209.28H847.00V224.48H845.00zM847.00 129.29H849.00V142.14H847.00zM849.00 141.38H850.00V154.64H849.00zM850.00 287.75H852.00V289.79H850.00zM852.00 287.75H854.00V289.86H852.00zM854.00 284.83H856.00V287.02H854.00zM856.00 248.80H858.00V261.59H856.00zM858.00 194.27H860.00V207.17H858.00zM860.00 144.30H862.00V156.28H860.00zM862.00 288.10H864.00V290.16H862.00zM864.00 287.79H866.00V289.93H864.00zM866.00 285.09H868.00V287.31H866.00zM868.00 201.78H869.00V217.33H868.00zM869.00 103.74H871.00V119.30H869.00zM871.00 113.64H873.00V127.24H871.00zM873.00 287.89H875.00V289.97H873.00zM875.00 284.85H877.00V287.01H875.00zM877.00 228.30H879.00V243.49H877.00zM879.00 130.56H881.00V147.04H879.00zM881.00 111.86H883.00V127.01H881.00zM883.00 127.67H885.00V141.46H883.00zM885.00 287.63H886.00V289.74H885.00zM886.00 285.19H888.00V287.38H886.00zM888.00 211.66H890.00V227.04H888.00zM890.00 121.29H892.00V138.00H890.00zM892.00 110.50H894.00V125.98H892.00zM894.00 118.40H896.00V132.36H894.00zM896.00 287.99H898.00V290.12H896.00zM898.00 284.93H900.00V287.15H898.00zM900.00 250.13H902.00V262.63H900.00zM902.00 172.12H904.00V189.06H902.00zM904.00 114.25H905.00V129.53H904.00zM905.00 139.18H907.00V153.32H905.00zM907.00 288.09H909.00V290.25H907.00zM909.00 287.83H911.00V290.08H909.00zM911.00 287.92H913.00V289.80H911.00zM913.00 285.40H915.00V287.36H913.00zM915.00 231.94H917.00V245.72H915.00zM917.00 154.84H919.00V166.41H917.00zM919.00 287.92H921.00V290.11H919.00zM921.00 287.84H923.00V290.11H921.00zM923.00 287.77H924.00V289.67H923.00zM924.00 271.82H926.00V276.76H924.00zM926.00 166.85H928.00V184.94H926.00zM928.00 126.64H930.00V141.49H928.00zM930.00 287.83H932.00V290.05H930.00zM932.00 285.03H934.00V287.33H932.00zM934.00 263.91H936.00V270.89H934.00zM936.00 181.11H938.00V194.71H936.00zM938.00 102.62H940.00V119.44H938.00zM940.00 129.77H941.00V144.43H940.00zM941.00 287.85H943.00V290.09H941.00zM943.00 288.22H945.00V290.10H943.00zM945.00 285.18H947.00V287.14H945.00zM947.00 228.87H949.00V242.66H947.00zM949.00 151.38H951.00V169.92H949.00zM951.00 108.56H953.00V125.82H951.00zM953.00 287.48H955.00V289.75H953.00zM955.00 285.24H957.00V287.14H955.00zM957.00 212.46H959.00V225.89H957.00zM959.00 112.88H960.00V130.96H959.00zM960.00 106.81H962.00V123.87H960.00zM962.00 115.51H964.00V130.53H962.00zM964.00 287.79H966.00V290.09H964.00zM966.00 285.01H968.00V286.94H966.00zM968.00 235.08H970.00V248.68H968.00zM970.00 122.01H972.00V140.32H970.00zM972.00 111.21H974.00V127.97H972.00zM974.00 122.80H976.00V138.00H974.00zM976.00 288.29H978.00V290.16H976.00zM978.00 287.80H979.00V289.75H978.00zM979.00 287.70H981.00V289.73H979.00zM981.00 285.03H983.00V287.14H981.00zM983.00 195.93H985.00V210.78H983.00zM985.00 143.58H987.00V157.29H985.00zM987.00 288.03H989.00V289.94H987.00zM989.00 287.97H991.00V289.95H989.00zM991.00 285.42H993.00V287.48H991.00zM993.00 253.24H995.00V264.06H993.00zM995.00 168.87H996.00V188.33H995.00zM996.00 136.46H998.00V151.17H996.00zM998.00 287.99H1000.00V289.92H998.00zM1000.00 288.15H1002.00V290.16H1000.00zM1002.00 285.36H1004.00V287.45H1002.00zM1004.00 224.83H1006.00V239.50H1004.00zM1006.00 172.48H1008.00V187.68H1006.00zM1008.00 138.83H1010.00V150.74H1008.00zM1010.00 287.95H1012.00V289.90H1010.00zM1012.00 287.90H1014.00V289.94H1012.00zM1014.00 277.86H1015.00V281.29H1014.00zM1015.00 193.48H1017.00V208.32H1015.00zM1017.00 110.88H1019.00V128.45H1017.00zM1019.00 139.69H1021.00V152.59H1019.00zM1021.00 287.94H1023.00V289.92H1021.00zM1023.00 287.63H1025.00V289.69H1023.00zM1025.00 284.90H1027.00V287.04H1025.00zM1027.00 232.66H1029.00V247.68H1027.00zM1029.00 128.79H1031.00V148.93H1029.00zM1031.00 110.67H1033.00V125.74H1031.00zM1033.00 287.73H1034.00V289.73H1033.00zM1034.00 285.11H1036.00V287.19H1034.00zM1036.00 234.65H1038.00V249.31H1036.00zM1038.00 125.26H1040.00V144.94H1038.00zM1040.00 109.56H1042.00V124.35H1040.00zM1042.00 115.01H1044.00V128.26H1042.00zM1044.00 287.79H1046.00V289.83H1044.00zM1046.00 285.30H1048.00V287.41H1046.00zM1048.00 226.60H1050.00V241.44H1048.00zM1050.00 114.14H1051.00V134.06H1050.00zM1051.00 99.54H1053.00V114.88H1051.00zM1053.00 143.15H1055.00V156.58H1053.00zM1055.00 288.13H1057.00V290.19H1055.00zM1057.00 287.76H1059.00V289.89H1057.00zM1059.00 287.60H1061.00V289.82H1059.00zM1061.00 282.52H1063.00V284.82H1061.00zM1063.00 240.20H1065.00V253.28H1063.00zM1065.00 145.51H1067.00V157.51H1065.00zM1067.00 287.72H1069.00V289.81H1067.00zM1069.00 287.62H1070.00V289.79H1069.00zM1070.00 284.92H1072.00V287.17H1070.00zM1072.00 252.44H1074.00V262.30H1072.00zM1074.00 159.17H1076.00V176.34H1074.00zM1076.00 130.76H1078.00V144.48H1076.00zM1078.00 287.78H1080.00V289.89H1078.00zM1080.00 287.80H1082.00V289.99H1080.00zM1082.00 285.22H1084.00V287.49H1082.00zM1084.00 249.66H1086.00V260.39H1084.00zM1086.00 186.08H1088.00V199.51H1086.00zM1088.00 143.46H1089.00V155.98H1088.00zM1089.00 288.01H1090.00V290.14H1089.00z" fill="#7e7e7e"/>
<path d="M66.00 285.59H67.00V286.80H66.00zM67.00 285.49H69.00V286.51H67.00zM69.00 285.54H71.00V286.60H69.00zM71.00 283.05H73.00V284.16H71.00zM73.00 197.40H75.00V207.25H73.00zM75.00 132.92H77.00V142.92H75.00zM77.00 285.65H79.00V286.64H77.00zM79.00 285.81H81.00V286.84H79.00zM81.00 282.67H82.00V283.83H81.00zM82.00 245.11H84.00V254.04H82.00zM84.00 137.23H86.00V148.14H84.00zM86.00 118.75H88.00V130.03H86.00zM88.00 285.81H90.00V286.82H88.00zM90.00 285.69H92.00V286.74H90.00zM92.00 282.97H94.00V284.09H92.00zM94.00 212.18H96.00V221.91H94.00zM96.00 112.49H98.00V124.02H96.00zM98.00 147.41H100.00V157.85H98.00zM100.00 285.48H101.00V286.50H100.00zM101.00 285.68H103.00V286.74H101.00zM103.00 285.57H105.00V286.67H103.00zM105.00 282.52H107.00V283.78H105.00zM107.00 176.36H109.00V186.56H107.00zM109.00 140.78H111.00V148.67H109.00zM111.00 285.44H113.00V286.47H111.00zM113.00 285.26H115.00V286.34H113.00zM115.00 285.58H117.00V286.70H115.00zM117.00 275.80H118.00V278.51H117.00zM118.00 178.75H120.00V189.07H118.00zM120.00 140.72H122.00V148.73H120.00zM122.00 285.34H124.00V286.39H122.00zM124.00 285.43H126.00V286.52H124.00zM126.00 282.67H128.00V283.89H126.00zM128.00 227.94H130.00V238.03H128.00zM130.00 125.10H132.00V135.97H130.00zM132.00 137.86H134.00V146.64H132.00zM134.00 285.47H136.00V286.54H134.00zM136.00 285.34H137.00V286.45H136.00zM137.00 282.80H139.00V284.00H137.00zM139.00 208.25H141.00V218.46H139.00zM141.00 116.60H143.00V126.15H141.00zM143.00 129.82H145.00V138.72H143.00zM145.00 285.78H147.00V286.86H145.00zM147.00 285.60H149.00V286.72H147.00zM149.00 283.00H151.00V284.17H149.00zM151.00 226.59H153.00V236.91H151.00zM153.00 121.36H155.00V130.84H153.00zM155.00 113.77H156.00V124.04H155.00zM156.00 285.63H158.00V286.72H156.00zM158.00 285.24H160.00V286.38H158.00zM160.00 285.70H162.00V286.87H160.00zM162.00 282.86H164.00V284.11H162.00zM164.00 131.73H166.00V141.33H164.00zM166.00 129.01H168.00V138.29H166.00zM168.00 285.62H170.00V286.72H168.00zM170.00 285.24H172.00V286.38H170.00zM172.00 282.68H173.00V283.95H172.00zM173.00 238.57H175.00V247.12H173.00zM175.00 125.31H177.00V134.62H175.00zM177.00 137.61H179.00V146.86H177.00zM179.00 285.60H181.00V286.72H179.00zM181.00 285.75H183.00V286.91H181.00zM183.00 285.75H185.00V286.96H183.00zM185.00 283.00H187.00V284.03H185.00zM187.00 203.36H189.00V212.38H187.00zM189.00 139.10H191.00V147.85H189.00zM191.00 285.77H192.00V286.90H191.00zM192.00 285.79H194.00V286.97H192.00zM194.00 285.41H196.00V286.62H194.00zM196.00 282.96H198.00V284.01H196.00zM198.00 167.72H200.00V177.72H198.00zM200.00 132.01H202.00V141.41H200.00zM202.00 285.54H204.00V286.68H202.00zM204.00 285.75H206.00V286.93H204.00zM206.00 285.70H208.00V286.69H206.00zM208.00 282.56H210.00V283.70H208.00zM210.00 185.45H211.00V194.70H210.00zM211.00 149.21H213.00V157.40H211.00zM213.00 285.48H215.00V286.64H213.00zM215.00 285.47H217.00V286.67H215.00zM217.00 282.55H219.00V283.67H217.00zM219.00 242.00H221.00V251.02H219.00zM221.00 149.95H223.00V157.89H221.00zM223.00 158.21H225.00V167.94H223.00zM225.00 255.94H227.00V262.94H225.00zM227.00 285.29H228.00V286.50H227.00zM228.00 282.55H230.00V283.68H228.00zM230.00 168.34H232.00V178.33H230.00zM232.00 116.68H234.00V127.24H232.00zM234.00 130.55H236.00V140.40H234.00zM236.00 288.85H238.00V290.04H236.00zM238.00 288.82H240.00V289.81H238.00zM240.00 288.37H242.00V289.40H240.00zM242.00 285.59H244.00V286.67H242.00zM244.00 209.18H246.00V218.79H244.00zM246.00 151.61H247.00V159.90H246.00zM247.00 288.74H249.00V289.94H247.00zM249.00 288.58H251.00V289.59H249.00zM251.00 288.43H253.00V289.48H251.00zM253.00 285.76H255.00V286.85H253.00zM255.00 202.37H257.00V212.10H255.00zM257.00 153.48H259.00V161.71H257.00zM259.00 288.39H261.00V289.61H259.00zM261.00 288.85H263.00V289.87H261.00zM263.00 288.73H265.00V289.79H263.00zM265.00 285.56H266.00V286.66H265.00zM266.00 213.96H268.00V223.81H266.00zM268.00 128.43H270.00V138.80H268.00zM270.00 288.90H272.00V289.89H270.00zM272.00 288.40H274.00V289.43H272.00zM274.00 288.84H276.00V289.92H274.00zM276.00 285.54H278.00V286.66H276.00zM278.00 234.75H280.00V244.72H278.00zM280.00 151.45H282.00V160.04H280.00zM282.00 288.37H283.00V289.38H282.00zM283.00 288.62H285.00V289.67H283.00zM285.00 288.65H287.00V289.75H285.00zM287.00 285.63H289.00V286.76H287.00zM289.00 199.42H291.00V209.51H289.00zM291.00 107.14H293.00V119.51H291.00zM293.00 288.80H295.00V289.82H293.00zM295.00 288.86H297.00V289.92H295.00zM297.00 288.70H299.00V289.80H297.00zM299.00 285.77H301.00V286.92H299.00zM301.00 189.85H302.00V200.06H301.00zM302.00 113.42H304.00V123.19H302.00zM304.00 288.63H306.00V289.67H304.00zM306.00 288.66H308.00V289.74H306.00zM308.00 288.90H310.00V290.02H308.00zM310.00 286.02H312.00V287.18H310.00zM312.00 194.69H314.00V205.02H312.00zM314.00 119.08H316.00V128.58H314.00zM316.00 288.60H318.00V289.65H316.00zM318.00 288.86H320.00V289.95H318.00zM320.00 288.75H321.00V289.88H320.00zM321.00 285.64H323.00V286.81H321.00zM323.00 256.50H325.00V263.59H323.00zM325.00 180.77H327.00V186.10H325.00zM327.00 288.56H329.00V289.62H327.00zM329.00 288.60H331.00V289.70H329.00zM331.00 288.61H333.00V289.76H331.00zM333.00 288.57H335.00V289.76H333.00zM335.00 273.97H337.00V276.67H335.00zM337.00 223.66H338.00V229.07H337.00zM338.00 288.59H340.00V289.66H338.00zM340.00 288.39H342.00V289.51H340.00zM342.00 288.81H344.00V289.97H342.00zM344.00 288.82H346.00V290.02H344.00zM346.00 283.45H348.00V284.45H346.00zM348.00 288.46H350.00V289.51H348.00zM350.00 288.83H352.00V289.92H350.00zM352.00 288.49H354.00V289.62H352.00zM354.00 288.33H356.00V289.51H354.00zM356.00 288.72H357.00V289.93H356.00zM357.00 284.67H359.00V285.69H357.00zM359.00 258.83H361.00V262.67H359.00zM361.00 288.81H363.00V289.92H361.00zM363.00 288.57H365.00V289.72H363.00zM365.00 288.75H367.00V289.93H365.00zM367.00 288.53H369.00V289.53H367.00zM369.00 285.85H371.00V286.89H369.00zM371.00 230.29H373.00V235.92H371.00zM373.00 288.52H374.00V289.64H373.00zM374.00 288.84H376.00V290.00H374.00zM376.00 288.38H378.00V289.58H376.00zM378.00 288.90H380.00V289.91H378.00zM380.00 280.04H382.00V281.69H380.00zM382.00 205.72H384.00V211.42H382.00zM384.00 288.64H386.00V289.77H384.00zM386.00 288.37H388.00V289.55H386.00zM388.00 288.76H390.00V289.97H388.00zM390.00 288.61H392.00V289.63H390.00zM392.00 286.12H393.00V287.18H392.00zM393.00 200.16H395.00V205.93H393.00zM395.00 288.85H397.00V289.99H395.00zM397.00 288.48H399.00V289.67H397.00zM399.00 288.92H401.00V289.92H399.00zM401.00 286.15H403.00V287.19H401.00zM403.00 192.81H405.00V202.06H403.00zM405.00 177.33H407.00V183.36H405.00zM407.00 288.72H409.00V289.88H407.00zM409.00 288.54H411.00V289.74H409.00zM411.00 288.90H412.00V289.91H411.00zM412.00 282.09H414.00V283.34H412.00zM414.00 202.56H416.00V211.93H414.00zM416.00 182.30H418.00V188.21H416.00zM418.00 288.57H420.00V289.74H418.00zM420.00 288.64H422.00V289.85H420.00zM422.00 279.38H424.00V281.12H422.00zM424.00 236.42H426.00V245.55H424.00zM426.00 132.01H428.00V141.41H426.00zM428.00 139.75H429.00V149.60H428.00zM429.00 288.37H431.00V289.55H429.00zM431.00 288.67H433.00V289.66H431.00zM433.00 277.33H435.00V279.47H433.00zM435.00 246.66H437.00V254.98H435.00zM437.00 142.94H439.00V153.46H437.00zM439.00 133.68H441.00V143.40H439.00zM441.00 288.61H443.00V289.81H441.00zM443.00 286.17H445.00V287.18H443.00zM445.00 226.05H447.00V235.07H445.00zM447.00 146.13H448.00V156.39H447.00zM448.00 106.31H450.00V117.93H448.00zM450.00 110.18H452.00V120.27H450.00zM452.00 288.68H454.00V289.89H452.00zM454.00 286.02H456.00V287.04H454.00zM456.00 221.08H458.00V230.22H456.00zM458.00 125.83H460.00V136.22H458.00zM460.00 110.71H462.00V122.12H460.00zM462.00 113.80H464.00V124.00H462.00zM464.00 288.78H466.00V289.78H464.00zM466.00 286.19H467.00V287.23H466.00zM467.00 243.23H469.00V252.24H467.00zM469.00 134.35H471.00V144.87H469.00zM471.00 113.84H473.00V125.13H471.00zM473.00 122.32H475.00V132.65H473.00zM475.00 288.94H477.00V289.95H475.00zM477.00 286.00H479.00V287.05H477.00zM479.00 194.58H481.00V203.96H479.00zM481.00 113.44H483.00V124.08H481.00zM483.00 104.84H484.00V116.91H483.00zM484.00 110.61H486.00V121.05H484.00zM486.00 288.36H488.00V289.38H486.00zM488.00 285.73H490.00V286.79H488.00zM490.00 255.47H492.00V262.20H490.00zM492.00 128.09H494.00V138.87H492.00zM494.00 105.38H496.00V117.59H494.00zM496.00 130.62H498.00V139.17H496.00zM498.00 288.64H500.00V289.68H498.00zM500.00 288.44H502.00V289.51H500.00zM502.00 279.30H503.00V281.19H502.00zM503.00 209.66H505.00V219.57H503.00zM505.00 132.30H507.00V142.39H505.00zM507.00 139.24H509.00V147.81H507.00zM509.00 288.88H511.00V289.93H509.00zM511.00 288.58H513.00V289.67H511.00zM513.00 288.51H515.00V289.65H513.00zM515.00 285.81H517.00V286.98H515.00zM517.00 221.87H519.00V232.06H517.00zM519.00 137.70H521.00V145.82H519.00zM521.00 288.53H522.00V289.59H521.00zM522.00 288.46H524.00V289.57H522.00zM524.00 286.08H526.00V287.23H524.00zM526.00 235.60H528.00V245.44H526.00zM528.00 137.27H530.00V145.12H528.00zM530.00 146.13H532.00V154.67H530.00zM532.00 288.63H534.00V289.71H532.00zM534.00 288.44H536.00V289.55H534.00zM536.00 288.49H538.00V289.65H536.00zM538.00 286.01H539.00V287.21H538.00zM539.00 199.10H541.00V207.31H539.00zM541.00 149.89H543.00V157.16H541.00zM543.00 288.88H545.00V289.97H543.00zM545.00 288.49H547.00V289.62H545.00zM547.00 288.46H549.00V289.63H547.00zM549.00 285.78H551.00V286.99H549.00zM551.00 235.98H553.00V244.16H551.00zM553.00 147.43H555.00V154.84H553.00zM555.00 288.31H557.00V289.42H555.00zM557.00 288.88H558.00V290.02H557.00zM558.00 285.60H560.00V286.79H558.00zM560.00 209.82H562.00V217.68H560.00zM562.00 119.13H564.00V128.11H562.00zM564.00 129.20H566.00V137.66H564.00zM566.00 288.82H568.00V289.94H566.00zM568.00 288.30H570.00V289.46H568.00zM570.00 288.36H572.00V289.56H570.00zM572.00 278.81H574.00V280.55H572.00zM574.00 161.32H576.00V170.29H574.00zM576.00 154.54H577.00V161.44H576.00zM577.00 288.90H579.00V290.03H577.00zM579.00 288.60H581.00V289.77H579.00zM581.00 288.77H583.00V289.98H581.00zM583.00 284.67H585.00V285.69H583.00zM585.00 228.87H587.00V236.97H585.00zM587.00 165.36H589.00V171.52H587.00zM589.00 288.32H591.00V289.47H589.00zM591.00 288.31H593.00V289.50H591.00zM593.00 288.75H594.00V289.74H593.00zM594.00 283.43H596.00V284.47H594.00zM596.00 224.05H598.00V232.12H596.00zM598.00 162.89H600.00V169.20H598.00zM600.00 288.82H602.00V289.98H600.00zM602.00 288.68H604.00V289.89H602.00zM604.00 288.81H606.00V289.82H604.00zM606.00 280.80H608.00V282.24H606.00zM608.00 221.70H610.00V229.72H608.00zM610.00 157.92H612.00V164.52H610.00zM612.00 288.49H613.00V289.66H612.00zM613.00 288.28H615.00V289.49H613.00zM615.00 288.52H617.00V289.54H615.00zM617.00 277.50H619.00V279.50H617.00zM619.00 220.56H621.00V228.55H619.00zM621.00 152.32H623.00V159.26H621.00zM623.00 288.30H625.00V289.49H623.00zM625.00 288.69H627.00V289.68H625.00zM627.00 288.77H629.00V289.80H627.00zM629.00 285.57H630.00V286.65H629.00zM630.00 183.86H632.00V191.80H630.00zM632.00 144.84H634.00V152.24H632.00zM634.00 288.76H636.00V289.96H634.00zM636.00 286.08H638.00V287.09H636.00zM638.00 215.45H640.00V222.81H638.00zM640.00 119.67H642.00V128.18H640.00zM642.00 107.94H644.00V117.33H642.00zM644.00 131.13H646.00V139.28H644.00zM646.00 288.64H648.00V289.86H646.00zM648.00 288.81H649.00V289.83H648.00zM649.00 270.36H651.00V273.46H649.00zM651.00 157.77H653.00V166.27H651.00zM653.00 120.56H655.00V129.20H653.00zM655.00 141.59H657.00V149.76H655.00zM657.00 288.94H659.00V289.93H657.00zM659.00 288.36H661.00V289.39H659.00zM661.00 288.62H663.00V289.70H661.00zM663.00 285.62H665.00V286.73H663.00zM665.00 233.67H667.00V241.65H665.00zM667.00 152.48H668.00V159.45H667.00zM668.00 288.38H670.00V289.39H668.00zM670.00 288.41H672.00V289.46H670.00zM672.00 288.90H674.00V289.99H672.00zM674.00 285.59H676.00V286.72H674.00zM676.00 217.07H678.00V225.15H676.00zM678.00 150.56H680.00V157.73H678.00zM680.00 288.45H682.00V289.47H680.00zM682.00 288.34H684.00V289.40H682.00zM684.00 288.85H685.00V289.95H684.00zM685.00 285.81H687.00V286.96H685.00zM687.00 239.11H689.00V247.28H687.00zM689.00 159.25H691.00V164.68H689.00zM691.00 288.67H693.00V289.71H691.00zM693.00 288.90H695.00V289.98H693.00zM695.00 288.76H697.00V289.88H695.00zM697.00 285.73H699.00V286.89H697.00zM699.00 246.65H701.00V254.35H699.00zM701.00 157.96H703.00V163.53H701.00zM703.00 288.88H704.00V289.92H703.00zM704.00 288.60H706.00V289.69H704.00zM706.00 288.66H708.00V289.79H706.00zM708.00 282.72H710.00V283.95H708.00zM710.00 194.26H712.00V202.62H710.00zM712.00 156.05H714.00V161.80H712.00zM714.00 288.39H716.00V289.46H714.00zM716.00 288.77H718.00V289.87H716.00zM718.00 278.79H720.00V280.67H718.00zM720.00 201.08H722.00V209.26H720.00zM722.00 127.30H723.00V134.45H722.00zM723.00 142.02H725.00V149.15H723.00zM725.00 288.52H727.00V289.60H725.00zM727.00 288.77H729.00V289.88H727.00zM729.00 288.68H731.00V289.83H729.00zM731.00 274.79H733.00V277.47H731.00zM733.00 207.11H735.00V214.05H733.00zM735.00 150.97H737.00V157.16H735.00zM737.00 288.33H739.00V289.42H737.00zM739.00 288.40H740.00V289.53H739.00zM740.00 288.74H742.00V289.91H740.00zM742.00 285.91H744.00V287.13H742.00zM744.00 248.43H746.00V254.78H744.00zM746.00 155.95H748.00V161.94H746.00zM748.00 288.51H750.00V289.61H748.00zM750.00 288.80H752.00V289.95H750.00zM752.00 288.74H754.00V289.92H752.00zM754.00 286.13H756.00V287.12H754.00zM756.00 236.47H758.00V243.60H756.00zM758.00 161.57H759.00V167.30H758.00zM759.00 288.46H761.00V289.57H759.00zM761.00 288.31H763.00V289.47H761.00zM763.00 288.75H765.00V289.95H763.00zM765.00 285.75H767.00V286.76H765.00zM767.00 248.36H769.00V254.88H767.00zM769.00 173.47H771.00V178.57H769.00zM771.00 288.79H773.00V289.93H771.00zM773.00 288.70H775.00V289.88H773.00zM775.00 288.27H777.00V289.48H775.00zM777.00 285.61H778.00V286.63H777.00zM778.00 245.71H780.00V252.74H778.00zM780.00 161.51H782.00V167.39H780.00zM782.00 288.86H784.00V290.01H782.00zM784.00 288.64H786.00V289.83H784.00zM786.00 288.86H788.00V289.85H786.00zM788.00 285.64H790.00V286.68H788.00zM790.00 238.19H792.00V245.61H790.00zM792.00 150.17H794.00V156.81H792.00zM794.00 288.86H795.00V290.02H794.00zM795.00 288.30H797.00V289.50H795.00zM797.00 285.75H799.00V286.76H797.00zM799.00 263.39H801.00V267.54H799.00zM801.00 173.76H803.00V182.15H801.00zM803.00 145.11H805.00V152.14H803.00zM805.00 288.68H807.00V289.85H805.00zM807.00 288.85H809.00V290.06H807.00zM809.00 285.64H811.00V286.66H809.00zM811.00 227.19H813.00V234.51H811.00zM813.00 159.00H814.00V167.50H813.00zM814.00 158.27H816.00V164.57H814.00zM816.00 288.63H818.00V289.82H816.00zM818.00 288.71H820.00V289.70H818.00zM820.00 288.38H822.00V289.42H820.00zM822.00 285.68H824.00V286.75H822.00zM824.00 235.01H826.00V242.71H824.00zM826.00 164.53H828.00V170.50H826.00zM828.00 288.66H830.00V289.86H828.00zM830.00 288.49H832.00V289.49H830.00zM832.00 288.82H833.00V289.87H832.00zM833.00 278.84H835.00V280.62H833.00zM835.00 215.96H837.00V223.75H835.00zM837.00 154.44H839.00V161.12H837.00zM839.00 288.31H841.00V289.52H839.00zM841.00 288.80H843.00V289.82H841.00zM843.00 286.12H845.00V287.18H843.00zM845.00 212.36H847.00V219.96H845.00zM847.00 131.25H849.00V139.22H847.00zM849.00 143.43H850.00V151.60H849.00zM850.00 288.52H852.00V289.51H850.00zM852.00 288.54H854.00V289.58H852.00zM854.00 285.65H856.00V286.73H854.00zM856.00 251.46H858.00V257.87H856.00zM858.00 196.25H860.00V204.24H858.00zM860.00 146.19H862.00V153.56H860.00zM862.00 288.87H864.00V289.88H862.00zM864.00 288.59H866.00V289.64H864.00zM866.00 285.92H868.00V287.01H866.00zM868.00 204.92H869.00V212.71H868.00zM869.00 106.07H871.00V115.69H869.00zM871.00 115.75H873.00V124.12H871.00zM873.00 288.67H875.00V289.69H873.00zM875.00 285.66H877.00V286.72H875.00zM877.00 231.37H879.00V238.98H877.00zM879.00 132.50H881.00V141.32H879.00zM881.00 114.14H883.00V123.49H881.00zM883.00 130.48H885.00V137.33H883.00zM885.00 288.42H886.00V289.46H885.00zM886.00 286.01H888.00V287.09H886.00zM888.00 214.77H890.00V222.47H888.00zM890.00 123.27H892.00V132.19H890.00zM892.00 112.84H894.00V122.38H892.00zM894.00 121.24H896.00V128.19H894.00zM896.00 288.79H898.00V289.84H896.00zM898.00 285.76H900.00V286.85H898.00zM900.00 252.74H902.00V259.00H900.00zM902.00 174.13H904.00V183.16H902.00zM904.00 116.57H905.00V125.97H904.00zM905.00 142.06H907.00V149.09H905.00zM907.00 288.90H909.00V289.96H907.00zM909.00 288.67H911.00V289.77H909.00zM911.00 288.50H913.00V289.64H911.00zM913.00 286.01H915.00V287.19H913.00zM915.00 234.75H917.00V241.60H915.00zM917.00 157.27H919.00V163.03H917.00zM919.00 288.74H921.00V289.81H919.00zM921.00 288.69H923.00V289.80H921.00zM923.00 288.35H924.00V289.51H923.00zM924.00 272.82H926.00V275.84H924.00zM926.00 169.70H928.00V177.45H926.00zM928.00 129.64H930.00V137.05H928.00zM930.00 288.66H932.00V289.75H930.00zM932.00 285.89H934.00V287.02H932.00zM934.00 265.15H936.00V269.45H934.00zM936.00 183.22H938.00V191.58H936.00zM938.00 105.97H940.00V114.34H938.00zM940.00 132.74H941.00V140.06H940.00zM941.00 288.69H943.00V289.79H941.00zM943.00 288.80H945.00V289.95H943.00zM945.00 285.79H947.00V286.97H945.00zM947.00 231.68H949.00V238.53H947.00zM949.00 154.29H951.00V162.25H949.00zM951.00 111.99H953.00V120.62H951.00zM953.00 288.33H955.00V289.45H953.00zM955.00 285.83H957.00V286.99H955.00zM957.00 214.53H959.00V222.81H957.00zM959.00 115.72H960.00V123.48H959.00zM960.00 110.20H962.00V118.71H960.00zM962.00 118.56H964.00V126.07H962.00zM964.00 288.65H966.00V289.78H964.00zM966.00 285.61H968.00V286.78H966.00zM968.00 237.19H970.00V245.56H968.00zM970.00 124.88H972.00V132.75H970.00zM972.00 114.55H974.00V122.92H972.00zM974.00 125.88H976.00V133.48H974.00zM976.00 288.87H978.00V290.01H976.00zM978.00 288.40H979.00V289.59H978.00zM979.00 288.46H981.00V289.45H979.00zM981.00 285.82H983.00V286.86H981.00zM983.00 198.94H985.00V206.36H983.00zM985.00 146.40H987.00V153.27H985.00zM987.00 288.62H989.00V289.78H987.00zM989.00 288.59H991.00V289.79H989.00zM991.00 286.19H993.00V287.20H991.00zM993.00 255.55H995.00V260.94H993.00zM995.00 171.92H996.00V180.31H995.00zM996.00 139.45H998.00V146.83H996.00zM998.00 288.58H1000.00V289.76H998.00zM1000.00 288.77H1002.00V289.99H1000.00zM1002.00 286.14H1004.00V287.16H1002.00zM1004.00 227.81H1006.00V235.13H1004.00zM1006.00 175.56H1008.00V183.16H1006.00zM1008.00 140.67H1010.00V148.06H1008.00zM1010.00 288.55H1012.00V289.74H1010.00zM1012.00 288.67H1014.00V289.66H1012.00zM1014.00 278.88H1015.00V280.58H1014.00zM1015.00 196.49H1017.00V203.90H1015.00zM1017.00 114.37H1019.00V123.17H1017.00zM1019.00 141.67H1021.00V149.65H1019.00zM1021.00 288.56H1023.00V289.76H1021.00zM1023.00 288.41H1025.00V289.41H1023.00zM1025.00 285.70H1027.00V286.75H1025.00zM1027.00 235.70H1029.00V243.21H1027.00zM1029.00 131.93H1031.00V140.64H1029.00zM1031.00 112.93H1033.00V122.25H1031.00zM1033.00 288.35H1034.00V289.57H1033.00zM1034.00 285.89H1036.00V286.91H1034.00zM1036.00 237.62H1038.00V244.94H1036.00zM1038.00 128.33H1040.00V136.83H1038.00zM1040.00 111.76H1042.00V120.94H1040.00zM1042.00 117.05H1044.00V125.23H1042.00zM1044.00 288.56H1046.00V289.55H1044.00zM1046.00 286.09H1048.00V287.12H1046.00zM1048.00 229.61H1050.00V237.02H1048.00zM1050.00 117.25H1051.00V125.86H1050.00zM1051.00 101.82H1053.00V111.33H1051.00zM1053.00 145.23H1055.00V153.50H1053.00zM1055.00 288.90H1057.00V289.91H1055.00zM1057.00 288.56H1059.00V289.61H1057.00zM1059.00 288.43H1061.00V289.52H1059.00zM1061.00 283.38H1063.00V284.51H1061.00zM1063.00 242.21H1065.00V250.29H1063.00zM1065.00 147.41H1067.00V154.79H1065.00zM1067.00 288.50H1069.00V289.52H1067.00zM1069.00 288.43H1070.00V289.50H1069.00zM1070.00 285.76H1072.00V286.87H1070.00zM1072.00 254.02H1074.00V260.14H1072.00zM1074.00 161.21H1076.00V170.35H1074.00zM1076.00 133.56H1078.00V140.38H1076.00zM1078.00 288.57H1080.00V289.61H1078.00zM1080.00 288.61H1082.00V289.69H1080.00zM1082.00 286.06H1084.00V287.18H1082.00zM1084.00 251.36H1086.00V258.00H1084.00zM1086.00 188.16H1088.00V196.43H1086.00zM1088.00 146.06H1089.00V152.28H1088.00zM1089.00 288.81H1090.00V289.86H1089.00z" fill="#585858"/>
<path d="M66.00 286.01H67.00V286.51H66.00zM67.00 285.80H69.00V286.32H67.00zM69.00 285.86H71.00V286.40H69.00zM71.00 283.44H73.00V283.89H71.00zM73.00 200.89H75.00V204.23H73.00zM75.00 136.46H77.00V139.87H75.00zM77.00 285.95H79.00V286.45H77.00zM79.00 286.12H81.00V286.65H79.00zM81.00 283.08H82.00V283.55H81.00zM82.00 248.28H84.00V251.31H82.00zM84.00 140.76H86.00V144.15H84.00zM86.00 122.75H88.00V126.58H86.00zM88.00 286.11H90.00V286.63H88.00zM90.00 286.00H92.00V286.54H90.00zM92.00 283.36H94.00V283.82H92.00zM94.00 215.64H96.00V218.93H94.00zM96.00 116.57H98.00V120.48H96.00zM98.00 151.10H100.00V154.66H98.00zM100.00 285.78H101.00V286.30H100.00zM101.00 286.00H103.00V286.54H101.00zM103.00 285.96H105.00V286.41H103.00zM105.00 282.96H107.00V283.47H105.00zM107.00 179.97H109.00V183.44H107.00zM109.00 143.24H111.00V146.58H109.00zM111.00 285.75H113.00V286.28H111.00zM113.00 285.64H115.00V286.08H113.00zM115.00 285.97H117.00V286.43H115.00zM117.00 276.76H118.00V277.74H117.00zM118.00 182.40H120.00V185.92H118.00zM120.00 143.22H122.00V146.60H120.00zM122.00 285.66H124.00V286.19H122.00zM124.00 285.81H126.00V286.26H124.00zM126.00 283.10H128.00V283.59H126.00zM128.00 231.52H130.00V234.94H128.00zM130.00 128.95H132.00V132.65H130.00zM132.00 140.61H134.00V144.30H132.00zM134.00 285.79H136.00V286.33H134.00zM136.00 285.73H137.00V286.18H136.00zM137.00 283.22H139.00V283.71H137.00zM139.00 211.87H141.00V215.34H139.00zM141.00 119.59H143.00V123.60H141.00zM143.00 132.61H145.00V136.34H143.00zM145.00 286.16H147.00V286.60H145.00zM147.00 285.99H149.00V286.45H147.00zM149.00 283.41H151.00V283.89H149.00zM151.00 230.24H153.00V233.76H151.00zM153.00 124.07H155.00V127.72H153.00zM155.00 116.99H156.00V121.28H155.00zM156.00 286.02H158.00V286.46H156.00zM158.00 285.64H160.00V286.11H158.00zM160.00 286.11H162.00V286.59H160.00zM162.00 283.30H164.00V283.81H162.00zM164.00 134.47H166.00V138.16H164.00zM166.00 131.92H168.00V135.80H166.00zM168.00 286.01H170.00V286.46H168.00zM170.00 285.64H172.00V286.11H170.00zM172.00 283.13H173.00V283.64H172.00zM173.00 241.24H175.00V244.84H173.00zM175.00 128.23H177.00V132.13H175.00zM177.00 140.90H179.00V144.02H177.00zM179.00 285.99H181.00V286.45H179.00zM181.00 286.16H183.00V286.64H181.00zM183.00 286.17H185.00V286.67H183.00zM185.00 283.31H187.00V283.83H185.00zM187.00 206.19H189.00V209.96H187.00zM189.00 142.21H191.00V145.17H189.00zM191.00 286.16H192.00V286.63H191.00zM192.00 286.20H194.00V286.69H192.00zM194.00 285.83H196.00V286.33H194.00zM196.00 283.28H198.00V283.81H196.00zM198.00 170.59H200.00V174.41H198.00zM200.00 135.35H202.00V138.53H200.00zM202.00 285.94H204.00V286.41H202.00zM204.00 286.16H206.00V286.65H204.00zM206.00 286.00H208.00V286.50H206.00zM208.00 282.90H210.00V283.48H208.00zM210.00 188.74H211.00V191.86H210.00zM211.00 152.11H213.00V154.90H211.00zM213.00 285.89H215.00V286.37H213.00zM215.00 285.89H217.00V286.38H215.00zM217.00 282.89H219.00V283.45H217.00zM219.00 244.83H221.00V248.60H219.00zM221.00 152.77H223.00V155.47H221.00zM223.00 161.66H225.00V164.96H223.00zM225.00 258.42H227.00V260.83H225.00zM227.00 285.71H228.00V286.21H227.00zM228.00 282.89H230.00V283.46H228.00zM230.00 171.21H232.00V175.03H230.00zM232.00 120.43H234.00V123.99H232.00zM234.00 134.04H236.00V137.38H234.00zM236.00 289.26H238.00V289.75H236.00zM238.00 289.11H240.00V289.62H238.00zM240.00 288.68H242.00V289.20H240.00zM242.00 285.97H244.00V286.41H242.00zM244.00 212.59H246.00V215.85H244.00zM246.00 154.54H247.00V157.38H246.00zM247.00 289.16H249.00V289.65H247.00zM249.00 288.89H251.00V289.40H249.00zM251.00 288.74H253.00V289.28H251.00zM253.00 286.14H255.00V286.59H253.00zM255.00 205.82H257.00V209.12H255.00zM257.00 156.39H259.00V159.21H257.00zM259.00 288.82H261.00V289.32H259.00zM261.00 289.16H263.00V289.68H261.00zM263.00 289.05H265.00V289.59H263.00zM265.00 285.94H266.00V286.40H265.00zM266.00 217.45H268.00V220.79H266.00zM268.00 132.11H270.00V135.63H268.00zM270.00 289.19H272.00V289.70H270.00zM272.00 288.71H274.00V289.24H272.00zM274.00 289.22H276.00V289.66H274.00zM276.00 285.94H278.00V286.40H276.00zM278.00 238.28H280.00V241.67H278.00zM280.00 154.49H282.00V157.43H280.00zM282.00 288.67H283.00V289.19H282.00zM283.00 288.94H285.00V289.47H283.00zM285.00 289.04H287.00V289.48H285.00zM287.00 286.03H289.00V286.49H287.00zM289.00 203.00H291.00V206.42H289.00zM291.00 111.52H293.00V115.71H291.00zM293.00 289.11H295.00V289.63H293.00zM295.00 289.18H297.00V289.72H295.00zM297.00 289.08H299.00V289.54H297.00zM299.00 286.17H301.00V286.65H299.00zM301.00 193.47H302.00V196.94H301.00zM302.00 116.47H304.00V120.58H302.00zM304.00 288.94H306.00V289.47H304.00zM306.00 289.04H308.00V289.48H306.00zM308.00 289.29H310.00V289.75H308.00zM310.00 286.42H312.00V286.90H310.00zM312.00 198.35H314.00V201.87H312.00zM314.00 122.05H316.00V126.04H314.00zM316.00 288.92H318.00V289.45H316.00zM318.00 289.24H320.00V289.69H318.00zM320.00 289.14H321.00V289.61H320.00zM321.00 286.05H323.00V286.54H321.00zM323.00 259.01H325.00V261.46H323.00zM325.00 182.43H327.00V184.71H325.00zM327.00 288.88H329.00V289.42H327.00zM329.00 288.99H331.00V289.44H329.00zM331.00 289.01H333.00V289.49H331.00zM333.00 288.99H335.00V289.48H333.00zM335.00 274.80H337.00V276.01H335.00zM337.00 225.35H338.00V227.66H337.00zM338.00 288.96H340.00V289.40H338.00zM340.00 288.78H342.00V289.24H340.00zM342.00 289.21H344.00V289.69H342.00zM344.00 289.23H346.00V289.73H344.00zM346.00 283.75H348.00V284.26H346.00zM348.00 288.78H350.00V289.31H348.00zM350.00 289.21H352.00V289.66H350.00zM352.00 288.89H354.00V289.35H352.00zM354.00 288.74H356.00V289.23H354.00zM356.00 289.14H357.00V289.64H356.00zM357.00 284.97H359.00V285.49H357.00zM359.00 260.03H361.00V261.70H359.00zM361.00 289.20H363.00V289.65H361.00zM363.00 288.97H365.00V289.45H363.00zM365.00 289.16H367.00V289.65H365.00zM367.00 288.83H369.00V289.34H367.00zM369.00 286.16H371.00V286.69H369.00zM371.00 232.29H373.00V234.22H371.00zM373.00 288.91H374.00V289.37H373.00zM374.00 289.25H376.00V289.73H374.00zM376.00 288.79H378.00V289.29H376.00zM378.00 289.20H380.00V289.72H378.00zM380.00 280.55H382.00V281.32H380.00zM382.00 207.74H384.00V209.70H382.00zM384.00 289.03H386.00V289.50H384.00zM386.00 288.78H388.00V289.27H386.00zM388.00 289.18H390.00V289.69H388.00zM390.00 288.92H392.00V289.44H390.00zM392.00 286.44H393.00V286.98H392.00zM393.00 202.21H395.00V204.20H393.00zM395.00 289.25H397.00V289.72H395.00zM397.00 288.89H399.00V289.38H397.00zM399.00 289.22H401.00V289.73H399.00zM401.00 286.46H403.00V286.99H401.00zM403.00 196.10H405.00V199.22H403.00zM405.00 179.47H407.00V181.55H405.00zM407.00 289.12H409.00V289.60H407.00zM409.00 288.96H411.00V289.45H409.00zM411.00 289.20H412.00V289.72H411.00zM412.00 282.47H414.00V283.09H412.00zM414.00 205.89H416.00V209.06H414.00zM416.00 184.40H418.00V186.43H416.00zM418.00 288.98H420.00V289.46H418.00zM420.00 289.06H422.00V289.57H420.00zM422.00 279.92H424.00V280.73H422.00zM424.00 239.29H426.00V243.11H424.00zM426.00 135.35H428.00V138.53H426.00zM428.00 143.24H429.00V146.58H428.00zM429.00 288.78H431.00V289.27H429.00zM431.00 288.97H433.00V289.48H431.00zM433.00 277.99H435.00V278.97H433.00zM435.00 249.62H437.00V252.44H435.00zM437.00 146.35H439.00V149.61H437.00zM439.00 137.13H441.00V140.43H439.00zM441.00 289.03H443.00V289.53H441.00zM443.00 286.48H445.00V286.99H443.00zM445.00 228.88H447.00V232.66H445.00zM447.00 149.46H448.00V152.63H447.00zM448.00 110.43H450.00V114.35H448.00zM450.00 113.76H452.00V117.18H450.00zM452.00 289.10H454.00V289.61H452.00zM454.00 286.33H456.00V286.85H454.00zM456.00 223.95H458.00V227.77H456.00zM458.00 129.20H460.00V132.41H458.00zM460.00 114.76H462.00V118.62H460.00zM462.00 117.41H464.00V120.88H462.00zM464.00 289.08H466.00V289.59H464.00zM466.00 286.50H467.00V287.03H466.00zM467.00 246.43H469.00V249.48H467.00zM469.00 137.76H471.00V141.02H469.00zM471.00 117.84H473.00V121.67H471.00zM473.00 125.98H475.00V129.49H473.00zM475.00 289.24H477.00V289.76H475.00zM477.00 286.31H479.00V286.85H477.00zM479.00 197.92H481.00V201.08H479.00zM481.00 116.89H483.00V120.19H481.00zM483.00 109.12H484.00V113.21H483.00zM484.00 114.30H486.00V117.86H484.00zM486.00 288.66H488.00V289.18H486.00zM488.00 286.05H490.00V286.59H488.00zM490.00 257.86H492.00V260.16H490.00zM492.00 131.59H494.00V134.93H492.00zM494.00 109.71H496.00V113.84H494.00zM496.00 133.29H498.00V136.89H496.00zM498.00 288.95H500.00V289.48H498.00zM500.00 288.81H502.00V289.25H500.00zM502.00 279.96H503.00V280.68H502.00zM503.00 213.16H505.00V216.52H503.00zM505.00 135.84H507.00V139.28H505.00zM507.00 141.89H509.00V145.50H507.00zM509.00 289.20H511.00V289.73H509.00zM511.00 288.96H513.00V289.41H511.00zM513.00 288.91H515.00V289.38H513.00zM515.00 286.22H517.00V286.70H515.00zM517.00 225.40H519.00V228.87H517.00zM519.00 140.18H521.00V143.60H519.00zM521.00 288.85H522.00V289.39H521.00zM522.00 288.85H524.00V289.30H522.00zM524.00 286.48H526.00V286.96H524.00zM526.00 238.97H528.00V242.32H526.00zM528.00 139.64H530.00V142.95H528.00zM530.00 148.71H532.00V152.29H530.00zM532.00 289.01H534.00V289.45H532.00zM534.00 288.83H536.00V289.29H534.00zM536.00 288.89H538.00V289.37H536.00zM538.00 286.43H539.00V286.92H538.00zM539.00 201.54H541.00V205.00H539.00zM541.00 152.05H543.00V155.12H541.00zM543.00 289.27H545.00V289.71H543.00zM545.00 288.88H547.00V289.35H545.00zM547.00 288.87H549.00V289.35H547.00zM549.00 286.20H551.00V286.70H549.00zM551.00 238.38H553.00V241.82H551.00zM553.00 149.60H555.00V152.72H553.00zM555.00 288.70H557.00V289.15H555.00zM557.00 289.28H558.00V289.75H557.00zM558.00 286.02H560.00V286.51H558.00zM560.00 212.08H562.00V215.40H560.00zM562.00 121.72H564.00V125.48H562.00zM564.00 131.96H566.00V134.82H564.00zM566.00 289.21H568.00V289.67H566.00zM568.00 288.70H570.00V289.18H568.00zM570.00 288.78H572.00V289.27H570.00zM572.00 279.32H574.00V280.13H572.00zM574.00 163.62H576.00V167.03H574.00zM576.00 156.75H577.00V159.11H576.00zM577.00 289.29H579.00V289.76H577.00zM579.00 289.01H581.00V289.49H579.00zM581.00 289.19H583.00V289.69H581.00zM583.00 284.97H585.00V285.49H583.00zM585.00 231.12H587.00V234.52H585.00zM587.00 167.30H589.00V169.42H587.00zM589.00 288.72H591.00V289.19H589.00zM591.00 288.73H593.00V289.22H591.00zM593.00 289.04H594.00V289.55H593.00zM594.00 283.74H596.00V284.27H594.00zM596.00 226.54H598.00V229.28H596.00zM598.00 164.85H600.00V167.01H598.00zM600.00 289.23H602.00V289.70H600.00zM602.00 289.10H604.00V289.60H602.00zM604.00 289.12H606.00V289.63H604.00zM606.00 281.22H608.00V281.91H606.00zM608.00 224.12H610.00V226.84H608.00zM610.00 159.92H612.00V162.18H610.00zM612.00 288.90H613.00V289.38H612.00zM613.00 288.70H615.00V289.20H613.00zM615.00 288.82H617.00V289.35H615.00zM617.00 278.06H619.00V278.98H617.00zM619.00 222.92H621.00V225.64H619.00zM621.00 154.37H623.00V156.75H621.00zM623.00 288.71H625.00V289.20H623.00zM625.00 288.98H627.00V289.49H625.00zM627.00 289.08H629.00V289.61H627.00zM629.00 285.95H630.00V286.39H629.00zM630.00 186.15H632.00V188.86H630.00zM632.00 146.97H634.00V149.51H632.00zM634.00 289.18H636.00V289.67H634.00zM636.00 286.38H638.00V286.90H636.00zM638.00 217.29H640.00V220.39H638.00zM640.00 121.83H642.00V124.42H640.00zM642.00 110.56H644.00V113.74H642.00zM644.00 133.41H646.00V136.20H644.00zM646.00 289.07H648.00V289.57H646.00zM648.00 289.12H649.00V289.64H648.00zM649.00 271.16H651.00V272.52H649.00zM651.00 159.87H653.00V162.47H651.00zM653.00 122.94H655.00V125.88H653.00zM655.00 143.84H657.00V146.64H655.00zM657.00 289.23H659.00V289.74H657.00zM659.00 288.67H661.00V289.20H659.00zM661.00 289.00H663.00V289.44H661.00zM663.00 286.01H665.00V286.47H663.00zM665.00 235.87H667.00V238.60H665.00zM667.00 154.42H668.00V156.82H667.00zM668.00 288.68H670.00V289.20H668.00zM670.00 288.72H672.00V289.26H670.00zM672.00 289.28H674.00V289.73H672.00zM674.00 285.98H676.00V286.45H674.00zM676.00 219.30H678.00V222.06H676.00zM678.00 152.55H680.00V155.03H678.00zM680.00 288.76H682.00V289.28H680.00zM682.00 288.66H684.00V289.20H682.00zM684.00 289.23H685.00V289.69H684.00zM685.00 286.21H687.00V286.68H685.00zM687.00 241.36H689.00V244.16H687.00zM689.00 160.58H691.00V162.91H689.00zM691.00 288.98H693.00V289.51H691.00zM693.00 289.28H695.00V289.72H693.00zM695.00 289.15H697.00V289.61H695.00zM697.00 286.13H699.00V286.61H697.00zM699.00 248.78H701.00V251.43H699.00zM701.00 159.33H703.00V161.71H701.00zM703.00 289.19H704.00V289.72H703.00zM704.00 288.98H706.00V289.43H704.00zM706.00 289.06H708.00V289.52H706.00zM708.00 283.14H710.00V283.65H708.00zM710.00 196.56H712.00V199.43H710.00zM712.00 157.47H714.00V159.92H712.00zM714.00 288.71H716.00V289.25H714.00zM716.00 289.16H718.00V289.61H716.00zM718.00 279.39H720.00V280.10H718.00zM720.00 203.34H722.00V206.14H720.00zM722.00 129.03H723.00V132.07H722.00zM723.00 143.76H725.00V146.77H723.00zM725.00 288.90H727.00V289.34H725.00zM727.00 289.16H729.00V289.62H727.00zM729.00 289.08H731.00V289.56H729.00zM731.00 275.60H733.00V276.58H731.00zM733.00 208.80H735.00V211.74H733.00zM735.00 152.49H737.00V155.12H735.00zM737.00 288.71H739.00V289.16H737.00zM739.00 288.79H740.00V289.26H739.00zM740.00 289.15H742.00V289.63H740.00zM742.00 286.33H744.00V286.84H742.00zM744.00 249.99H746.00V252.68H744.00zM746.00 157.43H748.00V159.97H746.00zM748.00 288.89H750.00V289.35H748.00zM750.00 289.20H752.00V289.67H750.00zM752.00 289.15H754.00V289.64H752.00zM754.00 286.43H756.00V286.93H754.00zM756.00 238.21H758.00V241.22H756.00zM758.00 163.18H759.00V165.15H758.00zM759.00 288.85H761.00V289.31H759.00zM761.00 288.72H763.00V289.19H761.00zM763.00 289.16H765.00V289.66H763.00zM765.00 286.05H767.00V286.57H765.00zM767.00 249.96H769.00V252.72H767.00zM769.00 174.91H771.00V176.67H769.00zM771.00 289.19H773.00V289.66H771.00zM773.00 289.11H775.00V289.60H773.00zM775.00 288.69H777.00V289.19H775.00zM777.00 285.91H778.00V286.44H777.00zM778.00 247.43H780.00V250.39H778.00zM780.00 163.16H782.00V165.18H780.00zM782.00 289.26H784.00V289.73H782.00zM784.00 289.05H786.00V289.54H784.00zM786.00 289.15H788.00V289.66H786.00zM788.00 285.95H790.00V286.48H788.00zM790.00 240.25H792.00V242.77H790.00zM792.00 152.02H794.00V154.30H792.00zM794.00 289.27H795.00V289.74H794.00zM795.00 288.71H797.00V289.21H795.00zM797.00 286.05H799.00V286.57H797.00zM799.00 264.43H801.00V266.23H799.00zM801.00 175.84H803.00V178.39H801.00zM803.00 147.06H805.00V149.47H803.00zM805.00 289.09H807.00V289.57H805.00zM807.00 289.27H809.00V289.78H807.00zM809.00 285.94H811.00V286.47H809.00zM811.00 228.99H813.00V232.07H811.00zM813.00 161.10H814.00V163.69H813.00zM814.00 160.03H816.00V162.20H814.00zM816.00 289.04H818.00V289.53H816.00zM818.00 289.01H820.00V289.52H818.00zM820.00 288.69H822.00V289.22H820.00zM822.00 286.05H824.00V286.50H822.00zM824.00 237.14H826.00V239.77H824.00zM826.00 166.20H828.00V168.27H826.00zM828.00 289.08H830.00V289.58H828.00zM830.00 288.79H832.00V289.30H830.00zM832.00 289.14H833.00V289.67H832.00zM833.00 279.40H835.00V280.08H833.00zM835.00 218.11H837.00V220.77H835.00zM837.00 156.30H839.00V158.60H837.00zM839.00 288.73H841.00V289.24H839.00zM841.00 289.10H843.00V289.62H841.00zM843.00 286.44H845.00V286.98H843.00zM845.00 214.46H847.00V217.05H845.00zM847.00 133.45H849.00V136.17H847.00zM849.00 145.68H850.00V148.48H849.00zM850.00 288.81H852.00V289.32H850.00zM852.00 288.86H854.00V289.38H852.00zM854.00 286.03H856.00V286.47H854.00zM856.00 253.25H858.00V255.45H856.00zM858.00 198.46H860.00V201.19H858.00zM860.00 148.24H862.00V150.77H860.00zM862.00 289.18H864.00V289.69H862.00zM864.00 288.91H866.00V289.44H864.00zM866.00 286.30H868.00V286.75H866.00zM868.00 207.07H869.00V209.73H868.00zM869.00 108.71H871.00V111.98H869.00zM871.00 118.06H873.00V120.93H871.00zM873.00 288.97H875.00V289.50H873.00zM875.00 285.98H877.00V286.52H875.00zM877.00 233.47H879.00V236.07H877.00zM879.00 134.69H881.00V137.38H879.00zM881.00 116.71H883.00V119.90H881.00zM883.00 132.15H885.00V135.05H883.00zM885.00 288.73H886.00V289.26H885.00zM886.00 286.39H888.00V286.83H886.00zM888.00 216.90H890.00V219.53H888.00zM890.00 125.47H892.00V128.20H890.00zM892.00 115.46H894.00V118.71H892.00zM894.00 122.93H896.00V125.88H894.00zM896.00 289.10H898.00V289.64H896.00zM898.00 286.14H900.00V286.59H898.00zM900.00 254.49H902.00V256.65H900.00zM902.00 176.36H904.00V179.13H902.00zM904.00 119.15H905.00V122.37H904.00zM905.00 143.77H907.00V146.75H905.00zM907.00 289.22H909.00V289.76H907.00zM909.00 289.06H911.00V289.51H909.00zM911.00 288.90H913.00V289.37H911.00zM913.00 286.42H915.00V286.91H913.00zM915.00 236.42H917.00V239.32H915.00zM917.00 158.69H919.00V161.14H917.00zM919.00 289.11H921.00V289.56H919.00zM921.00 289.08H923.00V289.54H921.00zM923.00 288.76H924.00V289.24H923.00zM924.00 273.72H926.00V274.82H924.00zM926.00 171.39H928.00V174.33H926.00zM928.00 131.45H930.00V134.57H928.00zM930.00 289.04H932.00V289.49H930.00zM932.00 286.28H934.00V286.75H932.00zM934.00 266.38H936.00V267.90H934.00zM936.00 185.52H938.00V188.39H936.00zM938.00 107.99H940.00V111.52H938.00zM940.00 134.53H941.00V137.61H940.00zM941.00 289.07H943.00V289.53H941.00zM943.00 289.20H945.00V289.67H943.00zM945.00 286.20H947.00V286.69H945.00zM947.00 233.35H949.00V236.25H947.00zM949.00 156.03H951.00V159.04H949.00zM951.00 114.37H953.00V117.28H951.00zM953.00 288.72H955.00V289.18H953.00zM955.00 286.23H957.00V286.71H955.00zM957.00 216.82H959.00V219.65H957.00zM959.00 117.41H960.00V120.36H959.00zM960.00 112.27H962.00V115.84H960.00zM962.00 120.64H964.00V123.19H962.00zM964.00 289.05H966.00V289.51H964.00zM966.00 286.02H968.00V286.50H966.00zM968.00 239.50H970.00V242.37H968.00zM970.00 126.60H972.00V129.58H970.00zM972.00 116.58H974.00V120.09H972.00zM974.00 127.98H976.00V130.57H974.00zM976.00 289.27H978.00V289.74H976.00zM978.00 288.82H979.00V289.31H978.00zM979.00 288.76H981.00V289.27H979.00zM981.00 286.14H983.00V286.66H981.00zM983.00 201.00H985.00V203.52H983.00zM985.00 148.31H987.00V150.66H985.00zM987.00 289.03H989.00V289.50H987.00zM989.00 289.00H991.00V289.50H989.00zM991.00 286.49H993.00V287.01H991.00zM993.00 256.88H995.00V259.18H993.00zM995.00 174.00H996.00V176.55H995.00zM996.00 141.50H998.00V144.02H996.00zM998.00 288.99H1000.00V289.48H998.00zM1000.00 289.20H1002.00V289.70H1000.00zM1002.00 286.45H1004.00V286.97H1002.00zM1004.00 229.60H1006.00V232.68H1004.00zM1006.00 177.66H1008.00V180.25H1006.00zM1008.00 142.72H1010.00V145.25H1008.00zM1010.00 288.97H1012.00V289.46H1010.00zM1012.00 288.96H1014.00V289.47H1012.00zM1014.00 279.35H1015.00V280.14H1014.00zM1015.00 198.54H1017.00V201.06H1015.00zM1017.00 116.79H1019.00V119.78H1017.00zM1019.00 143.87H1021.00V146.60H1019.00zM1021.00 288.98H1023.00V289.47H1021.00zM1023.00 288.71H1025.00V289.22H1023.00zM1025.00 286.02H1027.00V286.55H1025.00zM1027.00 237.78H1029.00V240.34H1027.00zM1029.00 134.09H1031.00V136.75H1029.00zM1031.00 115.49H1033.00V118.66H1031.00zM1033.00 288.77H1034.00V289.28H1033.00zM1034.00 286.20H1036.00V286.72H1034.00zM1036.00 239.41H1038.00V242.49H1036.00zM1038.00 130.43H1040.00V133.03H1038.00zM1040.00 114.29H1042.00V117.41H1040.00zM1042.00 119.31H1044.00V122.11H1042.00zM1044.00 288.86H1046.00V289.36H1044.00zM1046.00 286.40H1048.00V286.93H1046.00zM1048.00 231.66H1050.00V234.18H1048.00zM1050.00 119.38H1051.00V122.01H1050.00zM1051.00 104.43H1053.00V107.66H1051.00zM1053.00 147.51H1055.00V150.35H1053.00zM1055.00 289.20H1057.00V289.72H1055.00zM1057.00 288.87H1059.00V289.41H1057.00zM1059.00 288.81H1061.00V289.26H1059.00zM1061.00 283.77H1063.00V284.24H1061.00zM1063.00 244.44H1065.00V247.21H1063.00zM1065.00 149.46H1067.00V152.00H1065.00zM1067.00 288.81H1069.00V289.33H1067.00zM1069.00 288.75H1070.00V289.29H1069.00zM1070.00 286.15H1072.00V286.60H1070.00zM1072.00 255.73H1074.00V257.84H1072.00zM1074.00 163.47H1076.00V166.27H1074.00zM1076.00 135.22H1078.00V138.11H1076.00zM1078.00 288.89H1080.00V289.41H1078.00zM1080.00 288.99H1082.00V289.43H1080.00zM1082.00 286.46H1084.00V286.92H1082.00zM1084.00 253.21H1086.00V255.50H1084.00zM1086.00 190.44H1088.00V193.28H1086.00zM1088.00 147.58H1089.00V150.23H1088.00zM1089.00 289.12H1090.00V289.66H1089.00z" fill="#323232"/>
<path d="M66.50 286.26V286.26H66.62V286.06H68.62V286.13H70.62V283.66H72.62V202.62H74.62V138.22H76.62V286.20H78.62V286.38H80.62V283.32H81.62V249.84H83.62V142.51H85.62V124.72H87.62V286.37H89.62V286.27H91.62V283.59H93.62V217.34H95.62V118.59H97.62V152.94H99.62V286.04H100.62V286.27H102.62V286.18H104.62V283.21H106.62V181.76H108.62V144.96H110.62V286.01H112.62V285.86H114.62V286.20H116.62V277.26H117.62V184.22H119.62V144.96H121.62V285.92H123.62V286.03H125.62V283.34H127.62V233.28H129.62V130.86H131.62V142.51H133.62V286.06H135.62V285.96H136.62V283.46H138.62V213.66H140.62V121.66H142.62V134.54H144.62V286.38H146.62V286.22H148.62V283.65H150.62V232.06H152.62V125.95H154.62V119.20H155.62V286.24H157.62V285.87H159.62V286.35H161.62V283.56H163.62V136.38H165.62V133.92H167.62V286.23H169.62V285.88H171.62V283.38H172.62V243.10H174.62V130.24H176.62V142.51H178.62V286.22H180.62V286.40H182.62V286.42H184.62V283.57H186.62V208.14H188.62V143.74H190.62V286.40H191.62V286.44H193.62V286.08H195.62V283.55H197.62V172.56H199.62V136.99H201.62V286.17H203.62V286.41H205.62V286.25H207.62V283.19H209.62V190.35H210.62V153.55H212.62V286.13H214.62V286.14H216.62V283.17H218.62V246.78H220.62V154.16H222.62V163.36H224.62V259.66H226.62V285.96H227.62V283.18H229.62V173.18H231.62V122.27H233.62V135.76H235.62V289.51H237.62V289.37H239.62V288.94H241.62V286.19H243.62V214.27H245.62V156.00H246.62V289.41H248.62V289.14H250.62V289.01H252.62V286.37H254.62V207.52H256.62V157.84H258.62V289.07H260.62V289.42H262.62V289.32H264.62V286.17H265.62V219.18H267.62V133.92H269.62V289.45H271.62V288.97H273.62V289.44H275.62V286.17H277.62V240.03H279.62V156.00H281.62V288.93H282.62V289.20H284.62V289.26H286.62V286.26H288.62V204.76H290.62V113.68H292.62V289.37H294.62V289.45H296.62V289.31H298.62V286.41H300.62V195.26H301.62V118.59H303.62V289.21H305.62V289.26H307.62V289.52H309.62V286.66H311.62V200.16H313.62V124.11H315.62V289.19H317.62V289.46H319.62V289.37H320.62V286.29H322.62V260.27H324.62V183.60H326.62V289.15H328.62V289.21H330.62V289.25H332.62V289.23H334.62V275.42H336.62V226.54H337.62V289.18H339.62V289.01H341.62V289.45H343.62V289.48H345.62V284.01H347.62V289.05H349.62V289.43H351.62V289.12H353.62V288.99H355.62V289.39H356.62V285.23H358.62V260.88H360.62V289.43H362.62V289.21H364.62V289.41H366.62V289.08H368.62V286.43H370.62V233.28H372.62V289.14H373.62V289.49H375.62V289.04H377.62V289.46H379.62V280.94H381.62V208.75H383.62V289.27H385.62V289.02H387.62V289.44H389.62V289.18H391.62V286.71H392.62V203.23H394.62V289.48H396.62V289.14H398.62V289.48H400.62V286.73H402.62V197.71H404.62V180.54H406.62V289.36H408.62V289.20H410.62V289.46H411.62V282.78H413.62V207.52H415.62V185.44H417.62V289.22H419.62V289.31H421.62V280.33H423.62V241.26H425.62V136.99H427.62V144.96H428.62V289.02H430.62V289.22H432.62V278.49H434.62V251.07H436.62V148.03H438.62V138.83H440.62V289.28H442.62V286.73H444.62V230.83H446.62V151.10H447.62V112.46H449.62V115.52H451.62V289.35H453.62V286.59H455.62V225.92H457.62V130.86H459.62V116.75H461.62V119.20H463.62V289.34H465.62V286.77H466.62V248.00H468.62V139.44H470.62V119.82H472.62V127.79H474.62V289.50H476.62V286.58H478.62V199.55H480.62V118.59H482.62V111.23H483.62V116.14H485.62V288.92H487.62V286.32H489.62V259.04H491.62V133.31H493.62V111.84H495.62V135.15H497.62V289.22H499.62V289.03H501.62V280.33H502.62V214.88H504.62V137.60H506.62V143.74H508.62V289.46H510.62V289.18H512.62V289.14H514.62V286.46H516.62V227.15H518.62V141.90H520.62V289.12H521.62V289.07H523.62V286.72H525.62V240.64H527.62V141.28H529.62V150.48H531.62V289.23H533.62V289.06H535.62V289.13H537.62V286.68H538.62V203.23H540.62V153.55H542.62V289.49H544.62V289.11H546.62V289.11H548.62V286.45H550.62V240.03H552.62V151.10H554.62V288.93H556.62V289.52H557.62V286.26H559.62V213.66H561.62V123.50H563.62V133.31H565.62V289.44H567.62V288.94H569.62V289.02H571.62V279.71H573.62V165.20H575.62V157.84H576.62V289.52H578.62V289.25H580.62V289.44H582.62V285.23H584.62V232.67H586.62V168.27H588.62V288.96H590.62V288.97H592.62V289.30H593.62V284.01H595.62V227.76H597.62V165.82H599.62V289.46H601.62V289.35H603.62V289.37H605.62V281.55H607.62V225.31H609.62V160.91H611.62V289.14H612.62V288.95H614.62V289.09H616.62V278.49H618.62V224.08H620.62V155.39H622.62V288.96H624.62V289.24H626.62V289.34H628.62V286.17H629.62V187.28H631.62V148.03H633.62V289.42H635.62V286.64H637.62V218.56H639.62V122.88H641.62V111.84H643.62V134.54H645.62V289.32H647.62V289.38H648.62V271.74H650.62V160.91H652.62V124.11H654.62V144.96H656.62V289.49H658.62V288.93H660.62V289.22H662.62V286.24H664.62V236.96H666.62V155.39H667.62V288.94H669.62V288.99H671.62V289.51H673.62V286.22H675.62V220.40H677.62V153.55H679.62V289.02H681.62V288.93H683.62V289.46H684.62V286.45H686.62V242.48H688.62V161.52H690.62V289.25H692.62V289.50H694.62V289.38H696.62V286.37H698.62V249.84H700.62V160.30H702.62V289.46H703.62V289.21H705.62V289.29H707.62V283.39H709.62V197.71H711.62V158.46H713.62V288.98H715.62V289.38H717.62V279.71H719.62V204.46H721.62V130.24H722.62V144.96H724.62V289.12H726.62V289.39H728.62V289.32H730.62V276.03H732.62V209.98H734.62V153.55H736.62V288.93H738.62V289.02H739.62V289.39H741.62V286.59H743.62V251.07H745.62V158.46H747.62V289.12H749.62V289.44H751.62V289.40H753.62V286.68H755.62V239.42H757.62V163.98H758.62V289.08H760.62V288.96H762.62V289.41H764.62V286.31H766.62V251.07H768.62V175.63H770.62V289.42H772.62V289.36H774.62V288.94H776.62V286.18H777.62V248.62H779.62V163.98H781.62V289.50H783.62V289.30H785.62V289.41H787.62V286.22H789.62V241.26H791.62V152.94H793.62V289.51H794.62V288.96H796.62V286.31H798.62V265.18H800.62V176.86H802.62V148.03H804.62V289.33H806.62V289.52H808.62V286.20H810.62V230.22H812.62V162.14H813.62V160.91H815.62V289.29H817.62V289.26H819.62V288.96H821.62V286.27H823.62V238.19H825.62V167.04H827.62V289.33H829.62V289.05H831.62V289.41H832.62V279.71H834.62V219.18H836.62V157.23H838.62V288.98H840.62V289.36H842.62V286.71H844.62V215.50H846.62V134.54H848.62V146.80H849.62V289.07H851.62V289.12H853.62V286.25H855.62V254.14H857.62V199.55H859.62V149.26H861.62V289.43H863.62V289.17H865.62V286.52H867.62V208.14H868.62V110.00H870.62V119.20H872.62V289.24H874.62V286.25H876.62V234.51H878.62V135.76H880.62V117.98H882.62V133.31H884.62V289.00H885.62V286.61H887.62V217.95H889.62V126.56H891.62V116.75H893.62V124.11H895.62V289.37H897.62V286.37H899.62V255.36H901.62V177.47H903.62V120.43H904.62V144.96H906.62V289.49H908.62V289.28H910.62V289.13H912.62V286.67H914.62V237.58H916.62V159.68H918.62V289.34H920.62V289.31H922.62V289.00H923.62V274.19H925.62V172.56H927.62V132.70H929.62V289.27H931.62V286.52H933.62V267.02H935.62V186.67H937.62V109.39H939.62V135.76H940.62V289.30H942.62V289.44H944.62V286.45H946.62V234.51H948.62V157.23H950.62V115.52H952.62V288.95H954.62V286.47H956.62V217.95H958.62V118.59H959.62V113.68H961.62V121.66H963.62V289.28H965.62V286.26H967.62V240.64H969.62V127.79H971.62V117.98H973.62V129.02H975.62V289.50H977.62V289.06H978.62V289.01H980.62V286.40H982.62V202.00H984.62V149.26H986.62V289.27H988.62V289.25H990.62V286.75H992.62V257.82H994.62V175.02H995.62V142.51H997.62V289.24H999.62V289.45H1001.62V286.71H1003.62V230.83H1005.62V178.70H1007.62V143.74H1009.62V289.21H1011.62V289.22H1013.62V279.71H1014.62V199.55H1016.62V117.98H1018.62V144.96H1020.62V289.22H1022.62V288.96H1024.62V286.28H1026.62V238.80H1028.62V135.15H1030.62V116.75H1032.62V289.03H1033.62V286.46H1035.62V240.64H1037.62V131.47H1039.62V115.52H1041.62V120.43H1043.62V289.11H1045.62V286.66H1047.62V232.67H1049.62V120.43H1050.62V105.71H1052.62V148.64H1054.62V289.46H1056.62V289.14H1058.62V289.04H1060.62V284.01H1062.62V245.55H1064.62V150.48H1066.62V289.07H1068.62V289.02H1069.62V286.37H1071.62V256.59H1073.62V164.59H1075.62V136.38H1077.62V289.15H1079.62V289.21H1081.62V286.69H1083.62V254.14H1085.62V191.58H1087.62V148.64H1088.62V289.39H1089.62" stroke="#141414" stroke-width="1.25" fill="none" stroke-linejoin="miter"/>
<path d="M66.00 285.26H67.00V287.26H66.00zM69.00 285.13H71.00V287.13H69.00zM71.00 282.66H73.00V284.66H71.00zM77.00 285.20H79.00V287.20H77.00zM79.00 285.38H81.00V287.38H79.00zM81.00 282.32H82.00V284.32H81.00zM90.00 285.27H92.00V287.27H90.00zM92.00 282.59H94.00V284.59H92.00zM100.00 285.04H101.00V287.04H100.00zM101.00 285.27H103.00V287.27H101.00zM103.00 285.18H105.00V287.18H103.00zM105.00 282.21H107.00V284.21H105.00zM111.00 285.01H113.00V287.01H111.00zM115.00 285.20H117.00V287.20H115.00zM122.00 284.92H124.00V286.92H122.00zM124.00 285.03H126.00V287.03H124.00zM126.00 282.34H128.00V284.34H126.00zM134.00 285.06H136.00V287.06H134.00zM136.00 284.96H137.00V286.96H136.00zM137.00 282.46H139.00V284.46H137.00zM145.00 285.38H147.00V287.38H145.00zM147.00 285.22H149.00V287.22H147.00zM149.00 282.65H151.00V284.65H149.00zM156.00 285.24H158.00V287.24H156.00zM158.00 284.87H160.00V286.87H158.00zM160.00 285.35H162.00V287.35H160.00zM162.00 282.56H164.00V284.56H162.00zM168.00 285.23H170.00V287.23H168.00zM170.00 284.88H172.00V286.88H170.00zM172.00 282.38H173.00V284.38H172.00zM173.00 242.10H175.00V244.10H173.00zM179.00 285.22H181.00V287.22H179.00zM181.00 285.40H183.00V287.40H181.00zM185.00 282.57H187.00V284.57H185.00zM191.00 285.40H192.00V287.40H191.00zM192.00 285.44H194.00V287.44H192.00zM194.00 285.08H196.00V287.08H194.00zM196.00 282.55H198.00V284.55H196.00zM202.00 285.17H204.00V287.17H202.00zM206.00 285.25H208.00V287.25H206.00zM208.00 282.19H210.00V284.19H208.00zM215.00 285.14H217.00V287.14H215.00zM217.00 282.17H219.00V284.17H217.00zM219.00 245.78H221.00V247.78H219.00zM227.00 284.96H228.00V286.96H227.00zM228.00 282.18H230.00V284.18H228.00zM236.00 288.51H238.00V290.51H236.00zM238.00 288.37H240.00V290.37H238.00zM240.00 287.94H242.00V289.94H240.00zM242.00 285.19H244.00V287.19H242.00zM247.00 288.41H249.00V290.41H247.00zM249.00 288.14H251.00V290.14H249.00zM251.00 288.01H253.00V290.01H251.00zM253.00 285.37H255.00V287.37H253.00zM259.00 288.07H261.00V290.07H259.00zM261.00 288.42H263.00V290.42H261.00zM263.00 288.32H265.00V290.32H263.00zM265.00 285.17H266.00V287.17H265.00zM270.00 288.45H272.00V290.45H270.00zM272.00 287.97H274.00V289.97H272.00zM274.00 288.44H276.00V290.44H274.00zM276.00 285.17H278.00V287.17H276.00zM282.00 287.93H283.00V289.93H282.00zM283.00 288.20H285.00V290.20H283.00zM285.00 288.26H287.00V290.26H285.00zM287.00 285.26H289.00V287.26H287.00zM293.00 288.37H295.00V290.37H293.00zM295.00 288.45H297.00V290.45H295.00zM297.00 288.31H299.00V290.31H297.00zM299.00 285.41H301.00V287.41H299.00zM306.00 288.26H308.00V290.26H306.00zM308.00 288.52H310.00V290.52H308.00zM310.00 285.66H312.00V287.66H310.00zM316.00 288.19H318.00V290.19H316.00zM318.00 288.46H320.00V290.46H318.00zM320.00 288.37H321.00V290.37H320.00zM321.00 285.29H323.00V287.29H321.00zM323.00 259.27H325.00V261.27H323.00zM327.00 288.15H329.00V290.15H327.00zM329.00 288.21H331.00V290.21H329.00zM331.00 288.25H333.00V290.25H331.00zM333.00 288.23H335.00V290.23H333.00zM338.00 288.18H340.00V290.18H338.00zM340.00 288.01H342.00V290.01H340.00zM342.00 288.45H344.00V290.45H342.00zM344.00 288.48H346.00V290.48H344.00zM346.00 283.01H348.00V285.01H346.00zM348.00 288.05H350.00V290.05H348.00zM350.00 288.43H352.00V290.43H350.00zM352.00 288.12H354.00V290.12H352.00zM354.00 287.99H356.00V289.99H354.00zM356.00 288.39H357.00V290.39H356.00zM361.00 288.43H363.00V290.43H361.00zM363.00 288.21H365.00V290.21H363.00zM365.00 288.41H367.00V290.41H365.00zM369.00 285.43H371.00V287.43H369.00zM373.00 288.14H374.00V290.14H373.00zM374.00 288.49H376.00V290.49H374.00zM376.00 288.04H378.00V290.04H376.00zM378.00 288.46H380.00V290.46H378.00zM380.00 279.94H382.00V281.94H380.00zM384.00 288.27H386.00V290.27H384.00zM386.00 288.02H388.00V290.02H386.00zM388.00 288.44H390.00V290.44H388.00zM390.00 288.18H392.00V290.18H390.00zM395.00 288.48H397.00V290.48H395.00zM397.00 288.14H399.00V290.14H397.00zM399.00 288.48H401.00V290.48H399.00zM401.00 285.73H403.00V287.73H401.00zM409.00 288.20H411.00V290.20H409.00zM411.00 288.46H412.00V290.46H411.00zM412.00 281.78H414.00V283.78H412.00zM418.00 288.22H420.00V290.22H418.00zM422.00 279.33H424.00V281.33H422.00zM429.00 288.02H431.00V290.02H429.00zM431.00 288.22H433.00V290.22H431.00zM433.00 277.49H435.00V279.49H433.00zM435.00 250.07H437.00V252.07H435.00zM441.00 288.28H443.00V290.28H441.00zM452.00 288.35H454.00V290.35H452.00zM454.00 285.59H456.00V287.59H454.00zM464.00 288.34H466.00V290.34H464.00zM466.00 285.77H467.00V287.77H466.00zM477.00 285.58H479.00V287.58H477.00zM486.00 287.92H488.00V289.92H486.00zM488.00 285.32H490.00V287.32H488.00zM498.00 288.22H500.00V290.22H498.00zM500.00 288.03H502.00V290.03H500.00zM502.00 279.33H503.00V281.33H502.00zM509.00 288.46H511.00V290.46H509.00zM511.00 288.18H513.00V290.18H511.00zM513.00 288.14H515.00V290.14H513.00zM522.00 288.07H524.00V290.07H522.00zM524.00 285.72H526.00V287.72H524.00zM526.00 239.64H528.00V241.64H526.00zM532.00 288.23H534.00V290.23H532.00zM534.00 288.06H536.00V290.06H534.00zM538.00 285.68H539.00V287.68H538.00zM543.00 288.49H545.00V290.49H543.00zM545.00 288.11H547.00V290.11H545.00zM547.00 288.11H549.00V290.11H547.00zM549.00 285.45H551.00V287.45H549.00zM555.00 287.93H557.00V289.93H555.00zM557.00 288.52H558.00V290.52H557.00zM558.00 285.26H560.00V287.26H558.00zM566.00 288.44H568.00V290.44H566.00zM568.00 287.94H570.00V289.94H568.00zM570.00 288.02H572.00V290.02H570.00zM572.00 278.71H574.00V280.71H572.00zM577.00 288.52H579.00V290.52H577.00zM579.00 288.25H581.00V290.25H579.00zM581.00 288.44H583.00V290.44H581.00zM589.00 287.96H591.00V289.96H589.00zM591.00 287.97H593.00V289.97H591.00zM593.00 288.30H594.00V290.30H593.00zM600.00 288.46H602.00V290.46H600.00zM602.00 288.35H604.00V290.35H602.00zM604.00 288.37H606.00V290.37H604.00zM612.00 288.14H613.00V290.14H612.00zM613.00 287.95H615.00V289.95H613.00zM625.00 288.24H627.00V290.24H625.00zM627.00 288.34H629.00V290.34H627.00zM629.00 285.17H630.00V287.17H629.00zM634.00 288.42H636.00V290.42H634.00zM636.00 285.64H638.00V287.64H636.00zM648.00 288.38H649.00V290.38H648.00zM657.00 288.49H659.00V290.49H657.00zM661.00 288.22H663.00V290.22H661.00zM663.00 285.24H665.00V287.24H663.00zM668.00 287.94H670.00V289.94H668.00zM672.00 288.51H674.00V290.51H672.00zM674.00 285.22H676.00V287.22H674.00zM680.00 288.02H682.00V290.02H680.00zM682.00 287.93H684.00V289.93H682.00zM684.00 288.46H685.00V290.46H684.00zM685.00 285.45H687.00V287.45H685.00zM691.00 288.25H693.00V290.25H691.00zM693.00 288.50H695.00V290.50H693.00zM695.00 288.38H697.00V290.38H695.00zM697.00 285.37H699.00V287.37H697.00zM704.00 288.21H706.00V290.21H704.00zM706.00 288.29H708.00V290.29H706.00zM714.00 287.98H716.00V289.98H714.00zM716.00 288.38H718.00V290.38H716.00zM725.00 288.12H727.00V290.12H725.00zM729.00 288.32H731.00V290.32H729.00zM737.00 287.93H739.00V289.93H737.00zM739.00 288.02H740.00V290.02H739.00zM740.00 288.39H742.00V290.39H740.00zM742.00 285.59H744.00V287.59H742.00zM748.00 288.12H750.00V290.12H748.00zM750.00 288.44H752.00V290.44H750.00zM752.00 288.40H754.00V290.40H752.00zM759.00 288.08H761.00V290.08H759.00zM761.00 287.96H763.00V289.96H761.00zM763.00 288.41H765.00V290.41H763.00zM773.00 288.36H775.00V290.36H773.00zM777.00 285.18H778.00V287.18H777.00zM782.00 288.50H784.00V290.50H782.00zM784.00 288.30H786.00V290.30H784.00zM786.00 288.41H788.00V290.41H786.00zM795.00 287.96H797.00V289.96H795.00zM797.00 285.31H799.00V287.31H797.00zM805.00 288.33H807.00V290.33H805.00zM807.00 288.52H809.00V290.52H807.00zM809.00 285.20H811.00V287.20H809.00zM816.00 288.29H818.00V290.29H816.00zM818.00 288.26H820.00V290.26H818.00zM820.00 287.96H822.00V289.96H820.00zM822.00 285.27H824.00V287.27H822.00zM828.00 288.33H830.00V290.33H828.00zM832.00 288.41H833.00V290.41H832.00zM833.00 278.71H835.00V280.71H833.00zM839.00 287.98H841.00V289.98H839.00zM843.00 285.71H845.00V287.71H843.00zM850.00 288.07H852.00V290.07H850.00zM854.00 285.25H856.00V287.25H854.00zM862.00 288.43H864.00V290.43H862.00zM864.00 288.17H866.00V290.17H864.00zM866.00 285.52H868.00V287.52H866.00zM873.00 288.24H875.00V290.24H873.00zM875.00 285.25H877.00V287.25H875.00zM885.00 288.00H886.00V290.00H885.00zM886.00 285.61H888.00V287.61H886.00zM896.00 288.37H898.00V290.37H896.00zM898.00 285.37H900.00V287.37H898.00zM909.00 288.28H911.00V290.28H909.00zM913.00 285.67H915.00V287.67H913.00zM919.00 288.34H921.00V290.34H919.00zM921.00 288.31H923.00V290.31H921.00zM923.00 288.00H924.00V290.00H923.00zM930.00 288.27H932.00V290.27H930.00zM932.00 285.52H934.00V287.52H932.00zM941.00 288.30H943.00V290.30H941.00zM943.00 288.44H945.00V290.44H943.00zM945.00 285.45H947.00V287.45H945.00zM953.00 287.95H955.00V289.95H953.00zM964.00 288.28H966.00V290.28H964.00zM966.00 285.26H968.00V287.26H966.00zM976.00 288.50H978.00V290.50H976.00zM981.00 285.40H983.00V287.40H981.00zM987.00 288.27H989.00V290.27H987.00zM989.00 288.25H991.00V290.25H989.00zM991.00 285.75H993.00V287.75H991.00zM1000.00 288.45H1002.00V290.45H1000.00zM1002.00 285.71H1004.00V287.71H1002.00zM1012.00 288.22H1014.00V290.22H1012.00zM1014.00 278.71H1015.00V280.71H1014.00zM1021.00 288.22H1023.00V290.22H1021.00zM1023.00 287.96H1025.00V289.96H1023.00zM1025.00 285.28H1027.00V287.28H1025.00zM1033.00 288.03H1034.00V290.03H1033.00zM1034.00 285.46H1036.00V287.46H1034.00zM1044.00 288.11H1046.00V290.11H1044.00zM1046.00 285.66H1048.00V287.66H1046.00zM1055.00 288.46H1057.00V290.46H1055.00zM1057.00 288.14H1059.00V290.14H1057.00zM1059.00 288.04H1061.00V290.04H1059.00zM1069.00 288.02H1070.00V290.02H1069.00zM1070.00 285.37H1072.00V287.37H1070.00zM1078.00 288.15H1080.00V290.15H1078.00zM1080.00 288.21H1082.00V290.21H1080.00zM1082.00 285.69H1084.00V287.69H1082.00zM1089.00 288.39H1090.00V290.39H1089.00z" fill="#26ff00"/>
<path d="M67.00 285.06H69.00V287.06H67.00zM73.00 201.62H75.00V203.62H73.00zM75.00 137.22H77.00V139.22H75.00zM82.00 248.84H84.00V250.84H82.00zM84.00 141.51H86.00V143.51H84.00zM86.00 123.72H88.00V125.72H86.00zM88.00 285.37H90.00V287.37H88.00zM94.00 216.34H96.00V218.34H94.00zM96.00 117.59H98.00V119.59H96.00zM98.00 151.94H100.00V153.94H98.00zM107.00 180.76H109.00V182.76H107.00zM109.00 143.96H111.00V145.96H109.00zM113.00 284.86H115.00V286.86H113.00zM117.00 276.26H118.00V278.26H117.00zM118.00 183.22H120.00V185.22H118.00zM120.00 143.96H122.00V145.96H120.00zM128.00 232.28H130.00V234.28H128.00zM130.00 129.86H132.00V131.86H130.00zM132.00 141.51H134.00V143.51H132.00zM139.00 212.66H141.00V214.66H139.00zM141.00 120.66H143.00V122.66H141.00zM143.00 133.54H145.00V135.54H143.00zM151.00 231.06H153.00V233.06H151.00zM153.00 124.95H155.00V126.95H153.00zM155.00 118.20H156.00V120.20H155.00zM164.00 135.38H166.00V137.38H164.00zM166.00 132.92H168.00V134.92H166.00zM175.00 129.24H177.00V131.24H175.00zM177.00 141.51H179.00V143.51H177.00zM183.00 285.42H185.00V287.42H183.00zM187.00 207.14H189.00V209.14H187.00zM189.00 142.74H191.00V144.74H189.00zM198.00 171.56H200.00V173.56H198.00zM200.00 135.99H202.00V137.99H200.00zM204.00 285.41H206.00V287.41H204.00zM210.00 189.35H211.00V191.35H210.00zM211.00 152.55H213.00V154.55H211.00zM213.00 285.13H215.00V287.13H213.00zM221.00 153.16H223.00V155.16H221.00zM223.00 162.36H225.00V164.36H223.00zM225.00 258.66H227.00V260.66H225.00zM230.00 172.18H232.00V174.18H230.00zM232.00 121.27H234.00V123.27H232.00zM234.00 134.76H236.00V136.76H234.00zM244.00 213.27H246.00V215.27H244.00zM246.00 155.00H247.00V157.00H246.00zM255.00 206.52H257.00V208.52H255.00zM257.00 156.84H259.00V158.84H257.00zM266.00 218.18H268.00V220.18H266.00zM268.00 132.92H270.00V134.92H268.00zM278.00 239.03H280.00V241.03H278.00zM280.00 155.00H282.00V157.00H280.00zM289.00 203.76H291.00V205.76H289.00zM291.00 112.68H293.00V114.68H291.00zM301.00 194.26H302.00V196.26H301.00zM302.00 117.59H304.00V119.59H302.00zM304.00 288.21H306.00V290.21H304.00zM312.00 199.16H314.00V201.16H312.00zM314.00 123.11H316.00V125.11H314.00zM325.00 182.60H327.00V184.60H325.00zM335.00 274.42H337.00V276.42H335.00zM337.00 225.54H338.00V227.54H337.00zM357.00 284.23H359.00V286.23H357.00zM359.00 259.88H361.00V261.88H359.00zM367.00 288.08H369.00V290.08H367.00zM371.00 232.28H373.00V234.28H371.00zM382.00 207.75H384.00V209.75H382.00zM392.00 285.71H393.00V287.71H392.00zM393.00 202.23H395.00V204.23H393.00zM403.00 196.71H405.00V198.71H403.00zM405.00 179.54H407.00V181.54H405.00zM407.00 288.36H409.00V290.36H407.00zM414.00 206.52H416.00V208.52H414.00zM416.00 184.44H418.00V186.44H416.00zM420.00 288.31H422.00V290.31H420.00zM424.00 240.26H426.00V242.26H424.00zM426.00 135.99H428.00V137.99H426.00zM428.00 143.96H429.00V145.96H428.00zM437.00 147.03H439.00V149.03H437.00zM439.00 137.83H441.00V139.83H439.00zM443.00 285.73H445.00V287.73H443.00zM445.00 229.83H447.00V231.83H445.00zM447.00 150.10H448.00V152.10H447.00zM448.00 111.46H450.00V113.46H448.00zM450.00 114.52H452.00V116.52H450.00zM456.00 224.92H458.00V226.92H456.00zM458.00 129.86H460.00V131.86H458.00zM460.00 115.75H462.00V117.75H460.00zM462.00 118.20H464.00V120.20H462.00zM467.00 247.00H469.00V249.00H467.00zM469.00 138.44H471.00V140.44H469.00zM471.00 118.82H473.00V120.82H471.00zM473.00 126.79H475.00V128.79H473.00zM475.00 288.50H477.00V290.50H475.00zM479.00 198.55H481.00V200.55H479.00zM481.00 117.59H483.00V119.59H481.00zM483.00 110.23H484.00V112.23H483.00zM484.00 115.14H486.00V117.14H484.00zM490.00 258.04H492.00V260.04H490.00zM492.00 132.31H494.00V134.31H492.00zM494.00 110.84H496.00V112.84H494.00zM496.00 134.15H498.00V136.15H496.00zM503.00 213.88H505.00V215.88H503.00zM505.00 136.60H507.00V138.60H505.00zM507.00 142.74H509.00V144.74H507.00zM515.00 285.46H517.00V287.46H515.00zM517.00 226.15H519.00V228.15H517.00zM519.00 140.90H521.00V142.90H519.00zM521.00 288.12H522.00V290.12H521.00zM528.00 140.28H530.00V142.28H528.00zM530.00 149.48H532.00V151.48H530.00zM536.00 288.13H538.00V290.13H536.00zM539.00 202.23H541.00V204.23H539.00zM541.00 152.55H543.00V154.55H541.00zM551.00 239.03H553.00V241.03H551.00zM553.00 150.10H555.00V152.10H553.00zM560.00 212.66H562.00V214.66H560.00zM562.00 122.50H564.00V124.50H562.00zM564.00 132.31H566.00V134.31H564.00zM574.00 164.20H576.00V166.20H574.00zM576.00 156.84H577.00V158.84H576.00zM583.00 284.23H585.00V286.23H583.00zM585.00 231.67H587.00V233.67H585.00zM587.00 167.27H589.00V169.27H587.00zM594.00 283.01H596.00V285.01H594.00zM596.00 226.76H598.00V228.76H596.00zM598.00 164.82H600.00V166.82H598.00zM606.00 280.55H608.00V282.55H606.00zM608.00 224.31H610.00V226.31H608.00zM610.00 159.91H612.00V161.91H610.00zM615.00 288.09H617.00V290.09H615.00zM617.00 277.49H619.00V279.49H617.00zM619.00 223.08H621.00V225.08H619.00zM621.00 154.39H623.00V156.39H621.00zM623.00 287.96H625.00V289.96H623.00zM630.00 186.28H632.00V188.28H630.00zM632.00 147.03H634.00V149.03H632.00zM638.00 217.56H640.00V219.56H638.00zM640.00 121.88H642.00V123.88H640.00zM642.00 110.84H644.00V112.84H642.00zM644.00 133.54H646.00V135.54H644.00zM646.00 288.32H648.00V290.32H646.00zM649.00 270.74H651.00V272.74H649.00zM651.00 159.91H653.00V161.91H651.00zM653.00 123.11H655.00V125.11H653.00zM655.00 143.96H657.00V145.96H655.00zM659.00 287.93H661.00V289.93H659.00zM665.00 235.96H667.00V237.96H665.00zM667.00 154.39H668.00V156.39H667.00zM670.00 287.99H672.00V289.99H670.00zM676.00 219.40H678.00V221.40H676.00zM678.00 152.55H680.00V154.55H678.00zM687.00 241.48H689.00V243.48H687.00zM689.00 160.52H691.00V162.52H689.00zM699.00 248.84H701.00V250.84H699.00zM701.00 159.30H703.00V161.30H701.00zM703.00 288.46H704.00V290.46H703.00zM708.00 282.39H710.00V284.39H708.00zM710.00 196.71H712.00V198.71H710.00zM712.00 157.46H714.00V159.46H712.00zM718.00 278.71H720.00V280.71H718.00zM720.00 203.46H722.00V205.46H720.00zM722.00 129.24H723.00V131.24H722.00zM723.00 143.96H725.00V145.96H723.00zM727.00 288.39H729.00V290.39H727.00zM731.00 275.03H733.00V277.03H731.00zM733.00 208.98H735.00V210.98H733.00zM735.00 152.55H737.00V154.55H735.00zM744.00 250.07H746.00V252.07H744.00zM746.00 157.46H748.00V159.46H746.00zM754.00 285.68H756.00V287.68H754.00zM756.00 238.42H758.00V240.42H756.00zM758.00 162.98H759.00V164.98H758.00zM765.00 285.31H767.00V287.31H765.00zM767.00 250.07H769.00V252.07H767.00zM769.00 174.63H771.00V176.63H769.00zM771.00 288.42H773.00V290.42H771.00zM775.00 287.94H777.00V289.94H775.00zM778.00 247.62H780.00V249.62H778.00zM780.00 162.98H782.00V164.98H780.00zM788.00 285.22H790.00V287.22H788.00zM790.00 240.26H792.00V242.26H790.00zM792.00 151.94H794.00V153.94H792.00zM794.00 288.51H795.00V290.51H794.00zM799.00 264.18H801.00V266.18H799.00zM801.00 175.86H803.00V177.86H801.00zM803.00 147.03H805.00V149.03H803.00zM811.00 229.22H813.00V231.22H811.00zM813.00 161.14H814.00V163.14H813.00zM814.00 159.91H816.00V161.91H814.00zM824.00 237.19H826.00V239.19H824.00zM826.00 166.04H828.00V168.04H826.00zM830.00 288.05H832.00V290.05H830.00zM835.00 218.18H837.00V220.18H835.00zM837.00 156.23H839.00V158.23H837.00zM841.00 288.36H843.00V290.36H841.00zM845.00 214.50H847.00V216.50H845.00zM847.00 133.54H849.00V135.54H847.00zM849.00 145.80H850.00V147.80H849.00zM852.00 288.12H854.00V290.12H852.00zM856.00 253.14H858.00V255.14H856.00zM858.00 198.55H860.00V200.55H858.00zM860.00 148.26H862.00V150.26H860.00zM868.00 207.14H869.00V209.14H868.00zM869.00 109.00H871.00V111.00H869.00zM871.00 118.20H873.00V120.20H871.00zM877.00 233.51H879.00V235.51H877.00zM879.00 134.76H881.00V136.76H879.00zM881.00 116.98H883.00V118.98H881.00zM883.00 132.31H885.00V134.31H883.00zM888.00 216.95H890.00V218.95H888.00zM890.00 125.56H892.00V127.56H890.00zM892.00 115.75H894.00V117.75H892.00zM894.00 123.11H896.00V125.11H894.00zM900.00 254.36H902.00V256.36H900.00zM902.00 176.47H904.00V178.47H902.00zM904.00 119.43H905.00V121.43H904.00zM905.00 143.96H907.00V145.96H905.00zM907.00 288.49H909.00V290.49H907.00zM911.00 288.13H913.00V290.13H911.00zM915.00 236.58H917.00V238.58H915.00zM917.00 158.68H919.00V160.68H917.00zM924.00 273.19H926.00V275.19H924.00zM926.00 171.56H928.00V173.56H926.00zM928.00 131.70H930.00V133.70H928.00zM934.00 266.02H936.00V268.02H934.00zM936.00 185.67H938.00V187.67H936.00zM938.00 108.39H940.00V110.39H938.00zM940.00 134.76H941.00V136.76H940.00zM947.00 233.51H949.00V235.51H947.00zM949.00 156.23H951.00V158.23H949.00zM951.00 114.52H953.00V116.52H951.00zM955.00 285.47H957.00V287.47H955.00zM957.00 216.95H959.00V218.95H957.00zM959.00 117.59H960.00V119.59H959.00zM960.00 112.68H962.00V114.68H960.00zM962.00 120.66H964.00V122.66H962.00zM968.00 239.64H970.00V241.64H968.00zM970.00 126.79H972.00V128.79H970.00zM972.00 116.98H974.00V118.98H972.00zM974.00 128.02H976.00V130.02H974.00zM978.00 288.06H979.00V290.06H978.00zM979.00 288.01H981.00V290.01H979.00zM983.00 201.00H985.00V203.00H983.00zM985.00 148.26H987.00V150.26H985.00zM993.00 256.82H995.00V258.82H993.00zM995.00 174.02H996.00V176.02H995.00zM996.00 141.51H998.00V143.51H996.00zM998.00 288.24H1000.00V290.24H998.00zM1004.00 229.83H1006.00V231.83H1004.00zM1006.00 177.70H1008.00V179.70H1006.00zM1008.00 142.74H1010.00V144.74H1008.00zM1010.00 288.21H1012.00V290.21H1010.00zM1015.00 198.55H1017.00V200.55H1015.00zM1017.00 116.98H1019.00V118.98H1017.00zM1019.00 143.96H1021.00V145.96H1019.00zM1027.00 237.80H1029.00V239.80H1027.00zM1029.00 134.15H1031.00V136.15H1029.00zM1031.00 115.75H1033.00V117.75H1031.00zM1036.00 239.64H1038.00V241.64H1036.00zM1038.00 130.47H1040.00V132.47H1038.00zM1040.00 114.52H1042.00V116.52H1040.00zM1042.00 119.43H1044.00V121.43H1042.00zM1048.00 231.67H1050.00V233.67H1048.00zM1050.00 119.43H1051.00V121.43H1050.00zM1051.00 104.71H1053.00V106.71H1051.00zM1053.00 147.64H1055.00V149.64H1053.00zM1061.00 283.01H1063.00V285.01H1061.00zM1063.00 244.55H1065.00V246.55H1063.00zM1065.00 149.48H1067.00V151.48H1065.00zM1067.00 288.07H1069.00V290.07H1067.00zM1072.00 255.59H1074.00V257.59H1072.00zM1074.00 163.59H1076.00V165.59H1074.00zM1076.00 135.38H1078.00V137.38H1076.00zM1084.00 253.14H1086.00V255.14H1084.00zM1086.00 190.58H1088.00V192.58H1086.00zM1088.00 147.64H1089.00V149.64H1088.00z" fill="#00b8ff"/>
<path d="M64 406.5H1093M64 400.5H1093M64 394.5H1093M64 388.5H1093M64 375.5H1093M64 369.5H1093M64 363.5H1093M64 357.5H1093M64 345.5H1093M64 338.5H1093M64 332.5H1093M64 326.5H1093M64 314.5H1093M64 308.5H1093M64 302.5H1093M64 295.5H1093M64 283.5H1093M64 277.5H1093M64 271.5H1093M64 265.5H1093M64 252.5H1093M64 246.5H1093M64 240.5H1093M64 234.5H1093M64 222.5H1093M64 216.5H1093M64 210.5H1093M64 203.5H1093M64 191.5H1093M64 185.5H1093M64 179.5H1093M64 173.5H1093M64 160.5H1093M64 154.5H1093M64 148.5H1093M64 142.5H1093M64 130.5H1093M64 124.5H1093M64 117.5H1093M64 111.5H1093M64 99.5H1093M64 93.5H1093M64 87.5H1093M64 81.5H1093M64 68.5H1093M64 62.5H1093M64 56.5H1093M64 50.5H1093M64 38.5H1093M64 32.5H1093" stroke="#8f8f8f" stroke-opacity="0.34" stroke-width="1" stroke-dasharray="1 1" fill="none"/>
<path d="M65 412.5H1093M65 381.5H1093M65 351.5H1093M65 320.5H1093M65 289.5H1093M65 259.5H1093M65 228.5H1093M65 197.5H1093M65 167.5H1093M65 136.5H1093M65 105.5H1093M65 75.5H1093M65 44.5H1093" stroke="#de4f4f" stroke-opacity="0.42" stroke-width="1" stroke-dasharray="1 1" fill="none"/>
<path d="M76.5 26V415M99.5 26V415M110.5 26V415M121.5 26V415M133.5 26V415M144.5 26V415M155.5 26V415M178.5 26V415M190.5 26V415M201.5 26V415M212.5 26V415M224.5 26V415M235.5 26V415M258.5 26V415M269.5 26V415M281.5 26V415M292.5 26V415M303.5 26V415M315.5 26V415M338.5 26V415M349.5 26V415M360.5 26V415M372.5 26V415M383.5 26V415M394.5 26V415M417.5 26V415M429.5 26V415M440.5 26V415M451.5 26V415M463.5 26V415M474.5 26V415M497.5 26V415M508.5 26V415M520.5 26V415M531.5 26V415M542.5 26V415M554.5 26V415M576.5 26V415M588.5 26V415M599.5 26V415M611.5 26V415M622.5 26V415M633.5 26V415M656.5 26V415M667.5 26V415M679.5 26V415M690.5 26V415M702.5 26V415M713.5 26V415M736.5 26V415M747.5 26V415M758.5 26V415M770.5 26V415M781.5 26V415M793.5 26V415M815.5 26V415M827.5 26V415M838.5 26V415M850.5 26V415M861.5 26V415M872.5 26V415M895.5 26V415M906.5 26V415M918.5 26V415M929.5 26V415M941.5 26V415M952.5 26V415M975.5 26V415M986.5 26V415M997.5 26V415M1009.5 26V415M1020.5 26V415M1032.5 26V415M1054.5 26V415M1066.5 26V415M1077.5 26V415M1088.5 26V415" stroke="#8f8f8f" stroke-opacity="0.34" stroke-width="1" stroke-dasharray="1 1" fill="none"/>
<path d="M87.5 26V415M167.5 26V415M246.5 26V415M326.5 26V415M406.5 26V415M485.5 26V415M565.5 26V415M645.5 26V415M724.5 26V415M804.5 26V415M884.5 26V415M963.5 26V415M1043.5 26V415" stroke="#de4f4f" stroke-opacity="0.42" stroke-width="1" stroke-dasharray="1 1" fill="none"/>
<path d="M66.5 22V416.3" stroke="#444" stroke-width="1" fill="none"/>
<path d="M62.5 412.5H66" stroke="#7a7a7a" stroke-width="1" fill="none"/>
<path d="M66 412.5H1094" stroke="#0a0a0a" stroke-width="1" fill="none"/>
<path d="M66.5 21L63.6 26H69.4z" fill="#801f1f"/>
<path d="M1097.8 412.2L1093 409.3V415.1z" fill="#801f1f"/>
<g opacity="0.999">
<text transform="translate(42,415.8) scale(1,1.08)" font-family="Liberation Mono, monospace" font-size="10" fill="#000" stroke="#000" stroke-width="0.22">0</text>
<text transform="translate(42,384.8) scale(1,1.08)" font-family="Liberation Mono, monospace" font-size="10" fill="#000" stroke="#000" stroke-width="0.22" xml:space="preserve">5 m</text>
<text transform="translate(36,354.8) scale(1,1.08)" font-family="Liberation Mono, monospace" font-size="10" fill="#000" stroke="#000" stroke-width="0.22" xml:space="preserve">10 m</text>
<text transform="translate(36,323.8) scale(1,1.08)" font-family="Liberation Mono, monospace" font-size="10" fill="#000" stroke="#000" stroke-width="0.22" xml:space="preserve">15 m</text>
<text transform="translate(36,292.8) scale(1,1.08)" font-family="Liberation Mono, monospace" font-size="10" fill="#000" stroke="#000" stroke-width="0.22" xml:space="preserve">20 m</text>
<text transform="translate(36,262.8) scale(1,1.08)" font-family="Liberation Mono, monospace" font-size="10" fill="#000" stroke="#000" stroke-width="0.22" xml:space="preserve">25 m</text>
<text transform="translate(36,231.8) scale(1,1.08)" font-family="Liberation Mono, monospace" font-size="10" fill="#000" stroke="#000" stroke-width="0.22" xml:space="preserve">30 m</text>
<text transform="translate(36,200.8) scale(1,1.08)" font-family="Liberation Mono, monospace" font-size="10" fill="#000" stroke="#000" stroke-width="0.22" xml:space="preserve">35 m</text>
<text transform="translate(36,170.8) scale(1,1.08)" font-family="Liberation Mono, monospace" font-size="10" fill="#000" stroke="#000" stroke-width="0.22" xml:space="preserve">40 m</text>
<text transform="translate(36,139.8) scale(1,1.08)" font-family="Liberation Mono, monospace" font-size="10" fill="#000" stroke="#000" stroke-width="0.22" xml:space="preserve">45 m</text>
<text transform="translate(36,108.8) scale(1,1.08)" font-family="Liberation Mono, monospace" font-size="10" fill="#000" stroke="#000" stroke-width="0.22" xml:space="preserve">50 m</text>
<text transform="translate(36,78.8) scale(1,1.08)" font-family="Liberation Mono, monospace" font-size="10" fill="#000" stroke="#000" stroke-width="0.22" xml:space="preserve">55 m</text>
<text transform="translate(36,47.8) scale(1,1.08)" font-family="Liberation Mono, monospace" font-size="10" fill="#000" stroke="#000" stroke-width="0.22" xml:space="preserve">60 m</text>
<text transform="translate(107.0,425.2) scale(1,1.08)" font-family="Liberation Mono, monospace" font-size="10" fill="#000" stroke="#000" stroke-width="0.22" xml:space="preserve">Week 05</text>
<text transform="translate(186.6,425.2) scale(1,1.08)" font-family="Liberation Mono, monospace" font-size="10" fill="#000" stroke="#000" stroke-width="0.22" xml:space="preserve">Week 06</text>
<text transform="translate(266.3,425.2) scale(1,1.08)" font-family="Liberation Mono, monospace" font-size="10" fill="#000" stroke="#000" stroke-width="0.22" xml:space="preserve">Week 07</text>
<text transform="translate(345.9,425.2) scale(1,1.08)" font-family="Liberation Mono, monospace" font-size="10" fill="#000" stroke="#000" stroke-width="0.22" xml:space="preserve">Week 08</text>
<text transform="translate(425.6,425.2) scale(1,1.08)" font-family="Liberation Mono, monospace" font-size="10" fill="#000" stroke="#000" stroke-width="0.22" xml:space="preserve">Week 09</text>
<text transform="translate(505.2,425.2) scale(1,1.08)" font-family="Liberation Mono, monospace" font-size="10" fill="#000" stroke="#000" stroke-width="0.22" xml:space="preserve">Week 10</text>
<text transform="translate(584.9,425.2) scale(1,1.08)" font-family="Liberation Mono, monospace" font-size="10" fill="#000" stroke="#000" stroke-width="0.22" xml:space="preserve">Week 11</text>
<text transform="translate(664.5,425.2) scale(1,1.08)" font-family="Liberation Mono, monospace" font-size="10" fill="#000" stroke="#000" stroke-width="0.22" xml:space="preserve">Week 12</text>
<text transform="translate(744.2,425.2) scale(1,1.08)" font-family="Liberation Mono, monospace" font-size="10" fill="#000" stroke="#000" stroke-width="0.22" xml:space="preserve">Week 13</text>
<text transform="translate(823.8,425.2) scale(1,1.08)" font-family="Liberation Mono, monospace" font-size="10" fill="#000" stroke="#000" stroke-width="0.22" xml:space="preserve">Week 14</text>
<text transform="translate(903.4,425.2) scale(1,1.08)" font-family="Liberation Mono, monospace" font-size="10" fill="#000" stroke="#000" stroke-width="0.22" xml:space="preserve">Week 15</text>
<text transform="translate(983.1,425.2) scale(1,1.08)" font-family="Liberation Mono, monospace" font-size="10" fill="#000" stroke="#000" stroke-width="0.22" xml:space="preserve">Week 16</text>
<text transform="translate(1062.7,425.2) scale(1,1.08)" font-family="Liberation Mono, monospace" font-size="10" fill="#000" stroke="#000" stroke-width="0.22" xml:space="preserve">Week 17</text>
<text transform="translate(14.0,243.6) rotate(-90) scale(1,1.06)" font-family="Liberation Mono, monospace" font-size="11.67" fill="#000">Seconds</text>
<text transform="translate(1108.6,5) rotate(90)" font-family="Liberation Mono, monospace" font-size="8.33" fill="#000" fill-opacity="0.33">RRDTOOL / TOBI OETIKER</text>
<g fill="#000">
<text x="447" y="25.4" font-family="'Liberation Sans', 'Noto Sans CJK SC', sans-serif" font-size="12.9">天前的数据</text>
<text x="555.3" y="25.4" font-family="'Liberation Sans', 'Noto Sans CJK SC', sans-serif" font-size="12.9">中国</text>
<text x="584.6" y="25.4" font-family="'Liberation Sans', 'Noto Sans CJK SC', sans-serif" font-size="12.9">北京</text>
<text x="612.8" y="25.4" font-family="'Liberation Sans', 'Noto Sans CJK SC', sans-serif" font-size="12.9">联通</text>
<text transform="translate(0,26.4) scale(1,1.12)" font-family="Liberation Mono, monospace" font-size="13.33" xml:space="preserve"><tspan x="431">90</tspan><tspan x="507.5"> from </tspan><tspan x="642">AS4837</tspan></text>
</g>
<text transform="translate(15.2,442.0) scale(1,1.02)" font-family="Liberation Mono, monospace" font-size="11.67" fill="#000" stroke="#000" stroke-width="0.15" xml:space="preserve">median rtt:</text>
<text transform="translate(106.9,442.0) scale(1,1.02)" font-family="Liberation Mono, monospace" font-size="11.67" fill="#000" stroke="#000" stroke-width="0.15" xml:space="preserve">28.2 ms avg</text>
<text transform="translate(199.9,442.0) scale(1,1.02)" font-family="Liberation Mono, monospace" font-size="11.67" fill="#000" stroke="#000" stroke-width="0.15" xml:space="preserve">49.9 ms max</text>
<text transform="translate(292.9,442.0) scale(1,1.02)" font-family="Liberation Mono, monospace" font-size="11.67" fill="#000" stroke="#000" stroke-width="0.15" xml:space="preserve">19.8 ms min</text>
<text transform="translate(385.9,442.0) scale(1,1.02)" font-family="Liberation Mono, monospace" font-size="11.67" fill="#000" stroke="#000" stroke-width="0.15" xml:space="preserve">20.0 ms now</text>
<text transform="translate(478.9,442.0) scale(1,1.02)" font-family="Liberation Mono, monospace" font-size="11.67" fill="#000" stroke="#000" stroke-width="0.15" xml:space="preserve">11.3 ms sd</text>
<text transform="translate(564.9,442.0) scale(1,1.02)" font-family="Liberation Mono, monospace" font-size="11.67" fill="#000" stroke="#000" stroke-width="0.15" xml:space="preserve">2.5   am/s</text>
<text transform="translate(15.2,456.0) scale(1,1.02)" font-family="Liberation Mono, monospace" font-size="11.67" fill="#000" stroke="#000" stroke-width="0.15" xml:space="preserve">packet loss:</text>
<text transform="translate(107.1,456.0) scale(1,1.02)" font-family="Liberation Mono, monospace" font-size="11.67" fill="#000" stroke="#000" stroke-width="0.15" xml:space="preserve">0.72 % avg</text>
<text transform="translate(193.1,456.0) scale(1,1.02)" font-family="Liberation Mono, monospace" font-size="11.67" fill="#000" stroke="#000" stroke-width="0.15" xml:space="preserve">7.23 % max</text>
<text transform="translate(279.1,456.0) scale(1,1.02)" font-family="Liberation Mono, monospace" font-size="11.67" fill="#000" stroke="#000" stroke-width="0.15" xml:space="preserve">0.00 % min</text>
<text transform="translate(365.1,456.0) scale(1,1.02)" font-family="Liberation Mono, monospace" font-size="11.67" fill="#000" stroke="#000" stroke-width="0.15" xml:space="preserve">0.00 % now</text>
<text transform="translate(15.2,470.0) scale(1,1.02)" font-family="Liberation Mono, monospace" font-size="11.67" fill="#000" stroke="#000" stroke-width="0.15" xml:space="preserve">loss color:</text>
<rect x="108.4" y="462.2" width="7.8" height="8.2" fill="#26ff00" stroke="#000" stroke-width="1"/>
<text transform="translate(122.4,470.0) scale(1,1.02)" font-family="Liberation Mono, monospace" font-size="11.67" fill="#000" stroke="#000" stroke-width="0.15" xml:space="preserve">0</text>
<rect x="146.0" y="462.2" width="7.8" height="8.2" fill="#00b8ff" stroke="#000" stroke-width="1"/>
<text transform="translate(160.0,470.0) scale(1,1.02)" font-family="Liberation Mono, monospace" font-size="11.67" fill="#000" stroke="#000" stroke-width="0.15" xml:space="preserve">1/10</text>
<rect x="204.0" y="462.2" width="7.8" height="8.2" fill="#0059ff" stroke="#000" stroke-width="1"/>
<text transform="translate(218.0,470.0) scale(1,1.02)" font-family="Liberation Mono, monospace" font-size="11.67" fill="#000" stroke="#000" stroke-width="0.15" xml:space="preserve">2/10</text>
<rect x="262.0" y="462.2" width="7.8" height="8.2" fill="#5e00ff" stroke="#000" stroke-width="1"/>
<text transform="translate(276.0,470.0) scale(1,1.02)" font-family="Liberation Mono, monospace" font-size="11.67" fill="#000" stroke="#000" stroke-width="0.15" xml:space="preserve">3/10</text>
<rect x="320.0" y="462.2" width="7.8" height="8.2" fill="#7e00ff" stroke="#000" stroke-width="1"/>
<text transform="translate(334.0,470.0) scale(1,1.02)" font-family="Liberation Mono, monospace" font-size="11.67" fill="#000" stroke="#000" stroke-width="0.15" xml:space="preserve">4/10</text>
<rect x="378.0" y="462.2" width="7.8" height="8.2" fill="#dd00ff" stroke="#000" stroke-width="1"/>
<text transform="translate(392.0,470.0) scale(1,1.02)" font-family="Liberation Mono, monospace" font-size="11.67" fill="#000" stroke="#000" stroke-width="0.15" xml:space="preserve">5/10</text>
<rect x="436.0" y="462.2" width="7.8" height="8.2" fill="#ff0000" stroke="#000" stroke-width="1"/>
<text transform="translate(450.0,470.0) scale(1,1.02)" font-family="Liberation Mono, monospace" font-size="11.67" fill="#000" stroke="#000" stroke-width="0.15" xml:space="preserve">9/10</text>
<text transform="translate(15.2,484.0) scale(1,1.02)" font-family="Liberation Mono, monospace" font-size="11.67" fill="#000" stroke="#000" stroke-width="0.15" xml:space="preserve">probe:</text>
<text transform="translate(107.1,484.0) scale(1,1.02)" font-family="Liberation Mono, monospace" font-size="11.67" fill="#000" stroke="#000" stroke-width="0.15" xml:space="preserve">10 ICMP Echo Pings (64 Bytes) every 60s</text>
<text transform="translate(901.2,484.0) scale(1,1.02)" font-family="Liberation Mono, monospace" font-size="11.67" fill="#000" stroke="#000" stroke-width="0.15" xml:space="preserve">end: Thu Apr 23 02:19:03 2026</text>
</g>
</svg>
</body></html>
